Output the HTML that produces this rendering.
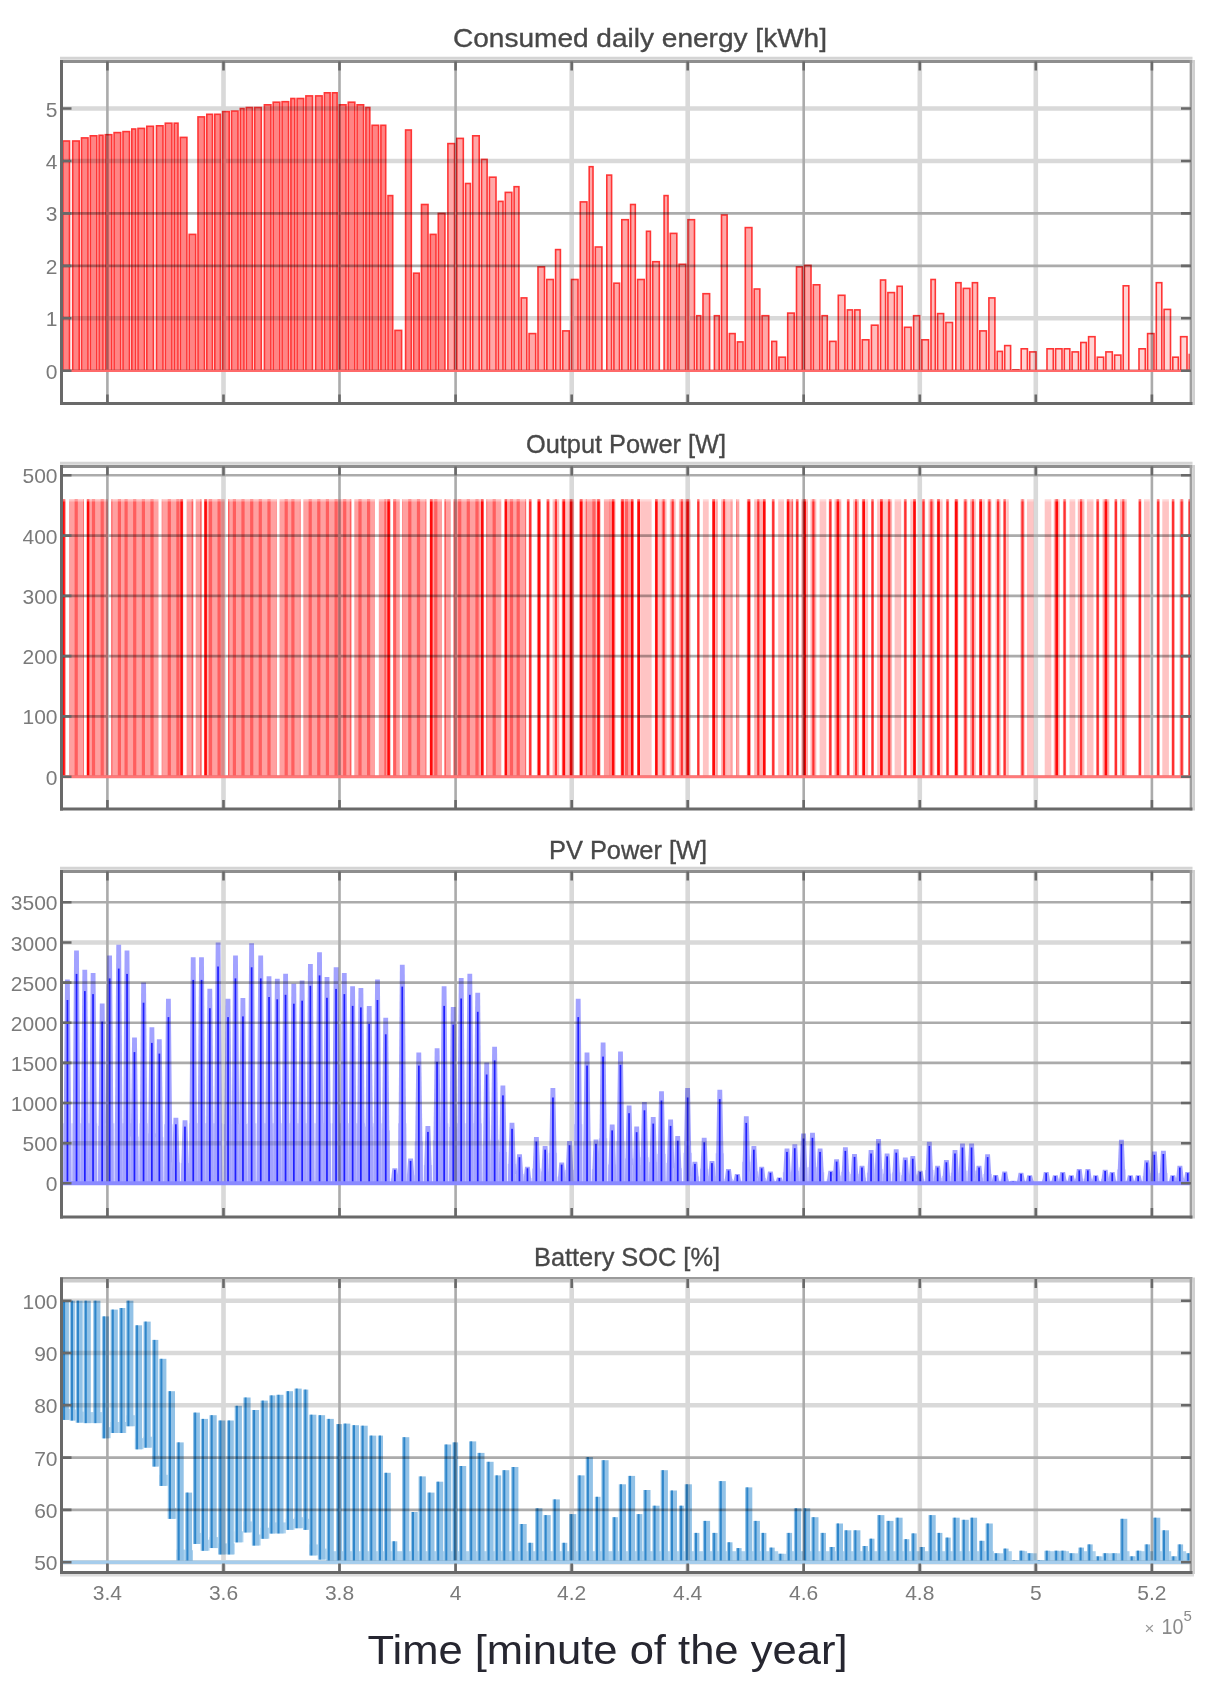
<!DOCTYPE html><html><head><meta charset="utf-8"><style>html,body{margin:0;padding:0;background:#fff;}body{position:relative;width:1208px;height:1699px;overflow:hidden;}svg{display:block;}#wrap{position:absolute;left:0;top:0;}text{font-family:"Liberation Sans",sans-serif;}</style></head><body>
<div id="wrap">
<svg id="main" width="1208" height="1699" viewBox="0 0 1208 1699" shape-rendering="auto">
<rect width="1208" height="1699" fill="#fff"/>
<clipPath id="c0"><rect x="61.5" y="61.5" width="1129.5" height="342.0"/></clipPath>
<g clip-path="url(#c0)">
<rect x="62.9" y="141.0" width="6.6" height="229.8" fill="#ff8484" stroke="#ff3535" stroke-width="1.6"/>
<rect x="72.7" y="141.0" width="6.5" height="229.8" fill="#ff8484" stroke="#ff3535" stroke-width="1.6"/>
<rect x="81.5" y="137.9" width="6.5" height="232.9" fill="#ff8484" stroke="#ff3535" stroke-width="1.6"/>
<rect x="90.3" y="135.8" width="6.5" height="235.0" fill="#ff8484" stroke="#ff3535" stroke-width="1.6"/>
<rect x="99.1" y="135.3" width="3.9" height="235.5" fill="#ff8484" stroke="#ff3535" stroke-width="1.6"/>
<rect x="105.3" y="134.7" width="6.5" height="236.1" fill="#ff8484" stroke="#ff3535" stroke-width="1.6"/>
<rect x="114.1" y="132.6" width="6.6" height="238.2" fill="#ff8484" stroke="#ff3535" stroke-width="1.6"/>
<rect x="123.0" y="131.6" width="6.5" height="239.2" fill="#ff8484" stroke="#ff3535" stroke-width="1.6"/>
<rect x="131.8" y="129.0" width="3.9" height="241.8" fill="#ff8484" stroke="#ff3535" stroke-width="1.6"/>
<rect x="138.0" y="128.4" width="6.5" height="242.4" fill="#ff8484" stroke="#ff3535" stroke-width="1.6"/>
<rect x="146.8" y="126.3" width="6.6" height="244.5" fill="#ff8484" stroke="#ff3535" stroke-width="1.6"/>
<rect x="156.5" y="125.8" width="6.5" height="245.0" fill="#ff8484" stroke="#ff3535" stroke-width="1.6"/>
<rect x="165.3" y="123.2" width="6.6" height="247.6" fill="#ff8484" stroke="#ff3535" stroke-width="1.6"/>
<rect x="174.2" y="123.2" width="3.8" height="247.6" fill="#ff8484" stroke="#ff3535" stroke-width="1.6"/>
<rect x="180.3" y="137.4" width="6.6" height="233.4" fill="#ff8484" stroke="#ff3535" stroke-width="1.6"/>
<rect x="189.2" y="234.4" width="6.5" height="136.4" fill="#ff8484" stroke="#ff3535" stroke-width="1.6"/>
<rect x="198.0" y="116.9" width="6.5" height="253.9" fill="#ff8484" stroke="#ff3535" stroke-width="1.6"/>
<rect x="206.8" y="114.3" width="5.7" height="256.5" fill="#ff8484" stroke="#ff3535" stroke-width="1.6"/>
<rect x="214.8" y="114.3" width="5.6" height="256.5" fill="#ff8484" stroke="#ff3535" stroke-width="1.6"/>
<rect x="222.7" y="111.6" width="6.5" height="259.2" fill="#ff8484" stroke="#ff3535" stroke-width="1.6"/>
<rect x="231.5" y="111.1" width="6.5" height="259.7" fill="#ff8484" stroke="#ff3535" stroke-width="1.6"/>
<rect x="240.3" y="108.5" width="3.7" height="262.3" fill="#ff8484" stroke="#ff3535" stroke-width="1.6"/>
<rect x="246.3" y="107.5" width="6.1" height="263.3" fill="#ff8484" stroke="#ff3535" stroke-width="1.6"/>
<rect x="254.7" y="107.5" width="6.6" height="263.3" fill="#ff8484" stroke="#ff3535" stroke-width="1.6"/>
<rect x="264.4" y="104.8" width="6.5" height="266.0" fill="#ff8484" stroke="#ff3535" stroke-width="1.6"/>
<rect x="273.2" y="102.2" width="6.6" height="268.6" fill="#ff8484" stroke="#ff3535" stroke-width="1.6"/>
<rect x="282.1" y="101.7" width="6.5" height="269.1" fill="#ff8484" stroke="#ff3535" stroke-width="1.6"/>
<rect x="290.9" y="98.5" width="3.9" height="272.3" fill="#ff8484" stroke="#ff3535" stroke-width="1.6"/>
<rect x="297.1" y="98.5" width="6.5" height="272.3" fill="#ff8484" stroke="#ff3535" stroke-width="1.6"/>
<rect x="305.9" y="95.9" width="6.6" height="274.9" fill="#ff8484" stroke="#ff3535" stroke-width="1.6"/>
<rect x="315.6" y="95.9" width="6.5" height="274.9" fill="#ff8484" stroke="#ff3535" stroke-width="1.6"/>
<rect x="324.4" y="92.8" width="5.7" height="278.0" fill="#ff8484" stroke="#ff3535" stroke-width="1.6"/>
<rect x="332.4" y="92.8" width="4.7" height="278.0" fill="#ff8484" stroke="#ff3535" stroke-width="1.6"/>
<rect x="339.4" y="104.8" width="6.6" height="266.0" fill="#ff8484" stroke="#ff3535" stroke-width="1.6"/>
<rect x="348.3" y="102.2" width="6.5" height="268.6" fill="#ff8484" stroke="#ff3535" stroke-width="1.6"/>
<rect x="357.1" y="104.8" width="6.5" height="266.0" fill="#ff8484" stroke="#ff3535" stroke-width="1.6"/>
<rect x="365.9" y="107.5" width="3.9" height="263.3" fill="#ff8484" stroke="#ff3535" stroke-width="1.6"/>
<rect x="372.1" y="125.3" width="6.5" height="245.5" fill="#ff8484" stroke="#ff3535" stroke-width="1.6"/>
<rect x="380.9" y="125.3" width="4.8" height="245.5" fill="#ff8484" stroke="#ff3535" stroke-width="1.6"/>
<rect x="388.0" y="195.6" width="4.7" height="175.2" fill="#ff8484" stroke="#ff3535" stroke-width="1.6"/>
<rect x="395.0" y="330.4" width="6.6" height="40.4" fill="#ff8484" stroke="#ff3535" stroke-width="1.6"/>
<rect x="405.6" y="130.0" width="5.7" height="240.8" fill="#ff8484" stroke="#ff3535" stroke-width="1.6"/>
<rect x="413.6" y="273.2" width="5.6" height="97.6" fill="#ff8484" stroke="#ff3535" stroke-width="1.6"/>
<rect x="421.5" y="204.5" width="6.5" height="166.3" fill="#ff8484" stroke="#ff3535" stroke-width="1.6"/>
<rect x="430.3" y="234.4" width="5.7" height="136.4" fill="#ff8484" stroke="#ff3535" stroke-width="1.6"/>
<rect x="438.3" y="213.4" width="6.6" height="157.4" fill="#ff8484" stroke="#ff3535" stroke-width="1.6"/>
<rect x="447.9" y="143.6" width="6.6" height="227.2" fill="#ffa8a8" stroke="#ff3535" stroke-width="1.6"/>
<rect x="456.8" y="138.4" width="6.5" height="232.4" fill="#ffa8a8" stroke="#ff3535" stroke-width="1.6"/>
<rect x="465.6" y="183.5" width="4.8" height="187.3" fill="#ffa8a8" stroke="#ff3535" stroke-width="1.6"/>
<rect x="472.7" y="135.8" width="6.5" height="235.0" fill="#ffa8a8" stroke="#ff3535" stroke-width="1.6"/>
<rect x="481.5" y="159.4" width="5.6" height="211.4" fill="#ffa8a8" stroke="#ff3535" stroke-width="1.6"/>
<rect x="489.4" y="177.2" width="6.6" height="193.6" fill="#ffa8a8" stroke="#ff3535" stroke-width="1.6"/>
<rect x="498.3" y="201.4" width="4.7" height="169.4" fill="#ffa8a8" stroke="#ff3535" stroke-width="1.6"/>
<rect x="505.3" y="192.4" width="6.5" height="178.4" fill="#ffa8a8" stroke="#ff3535" stroke-width="1.6"/>
<rect x="514.1" y="186.7" width="4.8" height="184.1" fill="#ffa8a8" stroke="#ff3535" stroke-width="1.6"/>
<rect x="521.2" y="297.9" width="5.6" height="72.9" fill="#ffa8a8" stroke="#ff3535" stroke-width="1.6"/>
<rect x="529.1" y="333.6" width="6.6" height="37.2" fill="#ffa8a8" stroke="#ff3535" stroke-width="1.6"/>
<rect x="538.0" y="266.9" width="6.5" height="103.9" fill="#ffa8a8" stroke="#ff3535" stroke-width="1.6"/>
<rect x="546.8" y="279.5" width="6.5" height="91.3" fill="#ffa8a8" stroke="#ff3535" stroke-width="1.6"/>
<rect x="555.6" y="249.6" width="4.8" height="121.2" fill="#ffa8a8" stroke="#ff3535" stroke-width="1.6"/>
<rect x="562.7" y="330.9" width="6.5" height="39.9" fill="#ffa8a8" stroke="#ff3535" stroke-width="1.6"/>
<rect x="571.5" y="279.5" width="6.5" height="91.3" fill="#ffa8a8" stroke="#ff3535" stroke-width="1.6"/>
<rect x="580.3" y="201.9" width="6.6" height="168.9" fill="#ffa8a8" stroke="#ff3535" stroke-width="1.6"/>
<rect x="589.2" y="166.7" width="3.8" height="204.1" fill="#ffa8a8" stroke="#ff3535" stroke-width="1.6"/>
<rect x="595.3" y="247.0" width="6.6" height="123.8" fill="#ffa8a8" stroke="#ff3535" stroke-width="1.6"/>
<rect x="606.8" y="175.1" width="4.8" height="195.7" fill="#ffa8a8" stroke="#ff3535" stroke-width="1.6"/>
<rect x="613.9" y="283.2" width="5.6" height="87.6" fill="#ffa8a8" stroke="#ff3535" stroke-width="1.6"/>
<rect x="621.8" y="219.7" width="6.5" height="151.1" fill="#ffa8a8" stroke="#ff3535" stroke-width="1.6"/>
<rect x="630.6" y="204.5" width="4.7" height="166.3" fill="#ffa8a8" stroke="#ff3535" stroke-width="1.6"/>
<rect x="637.6" y="279.5" width="6.6" height="91.3" fill="#ffa8a8" stroke="#ff3535" stroke-width="1.6"/>
<rect x="646.5" y="231.3" width="3.9" height="139.5" fill="#ffa8a8" stroke="#ff3535" stroke-width="1.6"/>
<rect x="652.7" y="261.7" width="6.6" height="109.1" fill="#ffa8a8" stroke="#ff3535" stroke-width="1.6"/>
<rect x="664.1" y="195.6" width="3.9" height="175.2" fill="#ffa8a8" stroke="#ff3535" stroke-width="1.6"/>
<rect x="670.3" y="233.4" width="6.5" height="137.4" fill="#ffa8a8" stroke="#ff3535" stroke-width="1.6"/>
<rect x="679.1" y="264.3" width="6.6" height="106.5" fill="#ffa8a8" stroke="#ff3535" stroke-width="1.6"/>
<rect x="688.0" y="219.7" width="6.5" height="151.1" fill="#ffa8a8" stroke="#ff3535" stroke-width="1.6"/>
<rect x="696.8" y="315.7" width="3.9" height="55.1" fill="#ffa8a8" stroke="#ff3535" stroke-width="1.6"/>
<rect x="703.0" y="293.7" width="6.6" height="77.1" fill="#ffa8a8" stroke="#ff3535" stroke-width="1.6"/>
<rect x="714.4" y="315.7" width="4.8" height="55.1" fill="#ffa8a8" stroke="#ff3535" stroke-width="1.6"/>
<rect x="721.5" y="215.0" width="5.6" height="155.8" fill="#ffa8a8" stroke="#ff3535" stroke-width="1.6"/>
<rect x="729.4" y="333.6" width="5.7" height="37.2" fill="#ffa8a8" stroke="#ff3535" stroke-width="1.6"/>
<rect x="737.4" y="341.9" width="5.6" height="28.9" fill="#ffa8a8" stroke="#ff3535" stroke-width="1.6"/>
<rect x="745.3" y="227.6" width="6.6" height="143.2" fill="#ffa8a8" stroke="#ff3535" stroke-width="1.6"/>
<rect x="754.2" y="289.0" width="5.6" height="81.8" fill="#ffa8a8" stroke="#ff3535" stroke-width="1.6"/>
<rect x="762.1" y="315.7" width="6.6" height="55.1" fill="#ffa8a8" stroke="#ff3535" stroke-width="1.6"/>
<rect x="771.8" y="341.4" width="4.8" height="29.4" fill="#ffa8a8" stroke="#ff3535" stroke-width="1.6"/>
<rect x="778.9" y="357.2" width="6.5" height="13.6" fill="#ffa8a8" stroke="#ff3535" stroke-width="1.6"/>
<rect x="787.7" y="313.1" width="6.5" height="57.7" fill="#ffa8a8" stroke="#ff3535" stroke-width="1.6"/>
<rect x="796.5" y="266.9" width="5.7" height="103.9" fill="#ffa8a8" stroke="#ff3535" stroke-width="1.6"/>
<rect x="804.5" y="265.4" width="6.5" height="105.4" fill="#ffa8a8" stroke="#ff3535" stroke-width="1.6"/>
<rect x="813.3" y="284.8" width="6.5" height="86.0" fill="#ffa8a8" stroke="#ff3535" stroke-width="1.6"/>
<rect x="822.1" y="315.7" width="5.2" height="55.1" fill="#ffbcbc" stroke="#ff3535" stroke-width="1.6"/>
<rect x="829.6" y="341.4" width="6.4" height="29.4" fill="#ffbcbc" stroke="#ff3535" stroke-width="1.6"/>
<rect x="838.3" y="295.3" width="6.6" height="75.5" fill="#ffbcbc" stroke="#ff3535" stroke-width="1.6"/>
<rect x="847.4" y="309.9" width="5.1" height="60.9" fill="#ffbcbc" stroke="#ff3535" stroke-width="1.6"/>
<rect x="854.8" y="309.9" width="5.2" height="60.9" fill="#ffbcbc" stroke="#ff3535" stroke-width="1.6"/>
<rect x="862.3" y="339.8" width="6.6" height="31.0" fill="#ffbcbc" stroke="#ff3535" stroke-width="1.6"/>
<rect x="871.4" y="325.2" width="6.6" height="45.6" fill="#ffbcbc" stroke="#ff3535" stroke-width="1.6"/>
<rect x="880.5" y="280.0" width="5.1" height="90.8" fill="#ffbcbc" stroke="#ff3535" stroke-width="1.6"/>
<rect x="887.9" y="292.6" width="6.6" height="78.2" fill="#ffbcbc" stroke="#ff3535" stroke-width="1.6"/>
<rect x="897.1" y="286.3" width="5.1" height="84.5" fill="#ffbcbc" stroke="#ff3535" stroke-width="1.6"/>
<rect x="904.5" y="327.3" width="6.6" height="43.5" fill="#ffbcbc" stroke="#ff3535" stroke-width="1.6"/>
<rect x="913.6" y="315.7" width="6.0" height="55.1" fill="#ffbcbc" stroke="#ff3535" stroke-width="1.6"/>
<rect x="921.9" y="339.8" width="6.6" height="31.0" fill="#ffbcbc" stroke="#ff3535" stroke-width="1.6"/>
<rect x="931.0" y="279.5" width="4.3" height="91.3" fill="#ffbcbc" stroke="#ff3535" stroke-width="1.6"/>
<rect x="937.6" y="313.6" width="6.0" height="57.2" fill="#ffbcbc" stroke="#ff3535" stroke-width="1.6"/>
<rect x="945.9" y="322.5" width="6.6" height="48.3" fill="#ffbcbc" stroke="#ff3535" stroke-width="1.6"/>
<rect x="955.8" y="282.7" width="5.2" height="88.1" fill="#ffbcbc" stroke="#ff3535" stroke-width="1.6"/>
<rect x="963.3" y="288.4" width="6.6" height="82.4" fill="#ffbcbc" stroke="#ff3535" stroke-width="1.6"/>
<rect x="972.4" y="282.7" width="5.1" height="88.1" fill="#ffbcbc" stroke="#ff3535" stroke-width="1.6"/>
<rect x="979.8" y="330.9" width="6.6" height="39.9" fill="#ffbcbc" stroke="#ff3535" stroke-width="1.6"/>
<rect x="988.9" y="297.9" width="6.0" height="72.9" fill="#ffbcbc" stroke="#ff3535" stroke-width="1.6"/>
<rect x="997.2" y="351.4" width="5.2" height="19.4" fill="#ffbcbc" stroke="#ff3535" stroke-width="1.6"/>
<rect x="1004.7" y="345.6" width="5.9" height="25.2" fill="#ffd4d4" stroke="#ff3535" stroke-width="1.6"/>
<rect x="1012.9" y="369.8" width="6.0" height="1.0" fill="#ffd4d4" stroke="#ff3535" stroke-width="1.6"/>
<rect x="1021.2" y="348.8" width="6.2" height="22.0" fill="#ffd4d4" stroke="#ff3535" stroke-width="1.6"/>
<rect x="1029.7" y="351.9" width="6.3" height="18.9" fill="#ffd4d4" stroke="#ff3535" stroke-width="1.6"/>
<rect x="1038.3" y="370.8" width="6.4" height="0.0" fill="#ffd4d4" stroke="#ff3535" stroke-width="1.6"/>
<rect x="1047.0" y="348.8" width="6.3" height="22.0" fill="#ffd4d4" stroke="#ff3535" stroke-width="1.6"/>
<rect x="1055.6" y="348.8" width="6.4" height="22.0" fill="#ffd4d4" stroke="#ff3535" stroke-width="1.6"/>
<rect x="1064.3" y="348.8" width="5.5" height="22.0" fill="#ffd4d4" stroke="#ff3535" stroke-width="1.6"/>
<rect x="1072.1" y="351.9" width="6.4" height="18.9" fill="#ffd4d4" stroke="#ff3535" stroke-width="1.6"/>
<rect x="1080.8" y="342.5" width="5.5" height="28.3" fill="#ffd4d4" stroke="#ff3535" stroke-width="1.6"/>
<rect x="1088.6" y="336.7" width="6.4" height="34.1" fill="#ffd4d4" stroke="#ff3535" stroke-width="1.6"/>
<rect x="1097.3" y="357.2" width="6.3" height="13.6" fill="#ffd4d4" stroke="#ff3535" stroke-width="1.6"/>
<rect x="1105.9" y="351.9" width="6.4" height="18.9" fill="#ffd4d4" stroke="#ff3535" stroke-width="1.6"/>
<rect x="1114.6" y="355.1" width="6.3" height="15.7" fill="#ffd4d4" stroke="#ff3535" stroke-width="1.6"/>
<rect x="1123.2" y="285.8" width="5.6" height="85.0" fill="#ffd4d4" stroke="#ff3535" stroke-width="1.6"/>
<rect x="1131.1" y="370.8" width="5.6" height="0.0" fill="#ffd4d4" stroke="#ff3535" stroke-width="1.6"/>
<rect x="1139.0" y="348.8" width="6.3" height="22.0" fill="#ffd4d4" stroke="#ff3535" stroke-width="1.6"/>
<rect x="1147.6" y="333.6" width="6.4" height="37.2" fill="#ffd4d4" stroke="#ff3535" stroke-width="1.6"/>
<rect x="1156.3" y="282.7" width="5.5" height="88.1" fill="#ffd4d4" stroke="#ff3535" stroke-width="1.6"/>
<rect x="1164.1" y="309.4" width="6.4" height="61.4" fill="#ffd4d4" stroke="#ff3535" stroke-width="1.6"/>
<rect x="1172.8" y="357.2" width="5.5" height="13.6" fill="#ffd4d4" stroke="#ff3535" stroke-width="1.6"/>
<rect x="1180.6" y="336.7" width="6.4" height="34.1" fill="#ffd4d4" stroke="#ff3535" stroke-width="1.6"/>
<rect x="1189.3" y="354.5" width="6.0" height="16.3" fill="#ffd4d4" stroke="#ff3535" stroke-width="1.6"/>
</g>
<g style="mix-blend-mode:multiply">
<path d="M223.5 61.5V403.5M571.7 61.5V403.5M687.7 61.5V403.5M919.8 61.5V403.5M1035.8 61.5V403.5M61.5 318.3H1191.0M61.5 161.0H1191.0M61.5 108.5H1191.0" stroke="#d9d9d9" stroke-width="4.6" fill="none"/>
<path d="M107.4 61.5V403.5M339.5 61.5V403.5M455.6 61.5V403.5M803.7 61.5V403.5M1151.9 61.5V403.5M61.5 370.8H1191.0M61.5 265.9H1191.0M61.5 213.4H1191.0" stroke="#ababab" stroke-width="2.6" fill="none"/>
</g>
<line x1="61.5" y1="370.8" x2="1191.0" y2="370.8" stroke="#ff6a6a" stroke-width="2.2"/>
<line x1="60.0" y1="58.3" x2="1192.5" y2="58.3" stroke="#d4d4d4" stroke-width="3"/>
<line x1="60.0" y1="61.5" x2="1192.5" y2="61.5" stroke="#8e8e8e" stroke-width="3"/>
<line x1="1191.0" y1="60.0" x2="1191.0" y2="405.0" stroke="#a0a0a0" stroke-width="2.7"/>
<line x1="1193.7" y1="60.0" x2="1193.7" y2="405.0" stroke="#d0d0d0" stroke-width="2.6"/>
<line x1="61.5" y1="60.0" x2="61.5" y2="405.0" stroke="#696969" stroke-width="3"/>
<line x1="60.0" y1="403.5" x2="1192.5" y2="403.5" stroke="#696969" stroke-width="2.8"/>
<path d="M107.4 61.5v9M107.4 403.5v-9M223.5 61.5v9M223.5 403.5v-9M339.5 61.5v9M339.5 403.5v-9M455.6 61.5v9M455.6 403.5v-9M571.7 61.5v9M571.7 403.5v-9M687.7 61.5v9M687.7 403.5v-9M803.7 61.5v9M803.7 403.5v-9M919.8 61.5v9M919.8 403.5v-9M1035.8 61.5v9M1035.8 403.5v-9M1151.9 61.5v9M1151.9 403.5v-9M61.5 370.8h10M1191.0 370.8h-10M61.5 318.3h10M1191.0 318.3h-10M61.5 265.9h10M1191.0 265.9h-10M61.5 213.4h10M1191.0 213.4h-10M61.5 161.0h10M1191.0 161.0h-10M61.5 108.5h10M1191.0 108.5h-10" stroke="#696969" stroke-width="2.6" fill="none"/>
<text x="57.5" y="378.8" font-size="21" fill="#7a7a7a" text-anchor="end">0</text>
<text x="57.5" y="326.3" font-size="21" fill="#7a7a7a" text-anchor="end">1</text>
<text x="57.5" y="273.9" font-size="21" fill="#7a7a7a" text-anchor="end">2</text>
<text x="57.5" y="221.4" font-size="21" fill="#7a7a7a" text-anchor="end">3</text>
<text x="57.5" y="169.0" font-size="21" fill="#7a7a7a" text-anchor="end">4</text>
<text x="57.5" y="116.5" font-size="21" fill="#7a7a7a" text-anchor="end">5</text>
<text x="453" y="47" font-size="26" fill="#484848" stroke="#484848" stroke-width="0.35" textLength="374" lengthAdjust="spacingAndGlyphs">Consumed daily energy [kWh]</text>
<clipPath id="c1"><rect x="61.5" y="466.5" width="1129.5" height="342.5"/></clipPath>
<g clip-path="url(#c1)">
<rect x="61.0" y="499.4" width="5.0" height="277.3" fill="#ffa8a8"/>
<rect x="62.2" y="499.4" width="2.6" height="277.3" fill="#ff0a0a"/>
<rect x="69.0" y="499.4" width="15.0" height="277.3" fill="#ffa0a0"/>
<rect x="74.6" y="499.4" width="3.2" height="277.3" fill="#ff5e5e"/>
<rect x="83.3" y="499.4" width="0.7" height="277.3" fill="#ff5e5e"/>
<rect x="86.5" y="499.4" width="3.3" height="277.3" fill="#ffa8a8"/>
<rect x="86.9" y="499.4" width="2.6" height="277.3" fill="#ff0a0a"/>
<rect x="89.8" y="499.4" width="18.2" height="277.3" fill="#ffa0a0"/>
<rect x="91.9" y="499.4" width="3.2" height="277.3" fill="#ff5e5e"/>
<rect x="100.6" y="499.4" width="3.2" height="277.3" fill="#ff5e5e"/>
<rect x="111.3" y="499.4" width="47.2" height="277.3" fill="#ffa0a0"/>
<rect x="111.3" y="499.4" width="1.1" height="277.3" fill="#ff5e5e"/>
<rect x="117.8" y="499.4" width="3.2" height="277.3" fill="#ff5e5e"/>
<rect x="124.5" y="499.4" width="3.2" height="277.3" fill="#ff5e5e"/>
<rect x="133.1" y="499.4" width="3.2" height="277.3" fill="#ff5e5e"/>
<rect x="141.8" y="499.4" width="3.2" height="277.3" fill="#ff5e5e"/>
<rect x="150.4" y="499.4" width="3.2" height="277.3" fill="#ff5e5e"/>
<rect x="161.8" y="499.4" width="18.2" height="277.3" fill="#ffa0a0"/>
<rect x="161.8" y="499.4" width="0.4" height="277.3" fill="#ff5e5e"/>
<rect x="167.7" y="499.4" width="3.2" height="277.3" fill="#ff5e5e"/>
<rect x="176.3" y="499.4" width="3.2" height="277.3" fill="#ff5e5e"/>
<rect x="180.0" y="499.4" width="3.3" height="277.3" fill="#ffa8a8"/>
<rect x="180.3" y="499.4" width="2.6" height="277.3" fill="#ff0a0a"/>
<rect x="186.6" y="499.4" width="6.6" height="277.3" fill="#ffa0a0"/>
<rect x="191.6" y="499.4" width="1.6" height="277.3" fill="#ff5e5e"/>
<rect x="195.7" y="499.4" width="5.8" height="277.3" fill="#ffa0a0"/>
<rect x="200.2" y="499.4" width="1.3" height="277.3" fill="#ff5e5e"/>
<rect x="204.0" y="499.4" width="3.3" height="277.3" fill="#ffa8a8"/>
<rect x="204.3" y="499.4" width="2.6" height="277.3" fill="#ff0a0a"/>
<rect x="207.3" y="499.4" width="17.4" height="277.3" fill="#ffa0a0"/>
<rect x="208.9" y="499.4" width="3.2" height="277.3" fill="#ff5e5e"/>
<rect x="217.5" y="499.4" width="3.2" height="277.3" fill="#ff5e5e"/>
<rect x="228.0" y="499.4" width="48.5" height="277.3" fill="#ffa0a0"/>
<rect x="228.0" y="499.4" width="1.4" height="277.3" fill="#ff5e5e"/>
<rect x="232.8" y="499.4" width="3.2" height="277.3" fill="#ff5e5e"/>
<rect x="241.4" y="499.4" width="3.2" height="277.3" fill="#ff5e5e"/>
<rect x="250.1" y="499.4" width="3.2" height="277.3" fill="#ff5e5e"/>
<rect x="258.7" y="499.4" width="3.2" height="277.3" fill="#ff5e5e"/>
<rect x="267.4" y="499.4" width="3.2" height="277.3" fill="#ff5e5e"/>
<rect x="276.0" y="499.4" width="0.5" height="277.3" fill="#ff5e5e"/>
<rect x="279.5" y="499.4" width="21.0" height="277.3" fill="#ffa0a0"/>
<rect x="284.6" y="499.4" width="3.2" height="277.3" fill="#ff5e5e"/>
<rect x="291.3" y="499.4" width="3.2" height="277.3" fill="#ff5e5e"/>
<rect x="299.9" y="499.4" width="0.6" height="277.3" fill="#ff5e5e"/>
<rect x="303.3" y="499.4" width="48.0" height="277.3" fill="#ffa0a0"/>
<rect x="308.6" y="499.4" width="3.2" height="277.3" fill="#ff5e5e"/>
<rect x="317.2" y="499.4" width="3.2" height="277.3" fill="#ff5e5e"/>
<rect x="325.8" y="499.4" width="3.2" height="277.3" fill="#ff5e5e"/>
<rect x="334.5" y="499.4" width="3.2" height="277.3" fill="#ff5e5e"/>
<rect x="343.1" y="499.4" width="3.2" height="277.3" fill="#ff5e5e"/>
<rect x="349.8" y="499.4" width="1.5" height="277.3" fill="#ff5e5e"/>
<rect x="354.3" y="499.4" width="20.7" height="277.3" fill="#ffa0a0"/>
<rect x="358.4" y="499.4" width="3.2" height="277.3" fill="#ff5e5e"/>
<rect x="367.0" y="499.4" width="3.2" height="277.3" fill="#ff5e5e"/>
<rect x="378.8" y="499.4" width="7.8" height="277.3" fill="#ffa0a0"/>
<rect x="384.3" y="499.4" width="2.3" height="277.3" fill="#ff5e5e"/>
<rect x="386.6" y="499.4" width="4.1" height="277.3" fill="#ffa8a8"/>
<rect x="387.3" y="499.4" width="2.6" height="277.3" fill="#ff0a0a"/>
<rect x="393.2" y="499.4" width="6.6" height="277.3" fill="#ffa0a0"/>
<rect x="393.2" y="499.4" width="3.0" height="277.3" fill="#ff5e5e"/>
<rect x="402.3" y="499.4" width="24.0" height="277.3" fill="#ffa0a0"/>
<rect x="402.3" y="499.4" width="0.5" height="277.3" fill="#ff5e5e"/>
<rect x="408.2" y="499.4" width="3.2" height="277.3" fill="#ff5e5e"/>
<rect x="416.9" y="499.4" width="3.2" height="277.3" fill="#ff5e5e"/>
<rect x="425.5" y="499.4" width="0.8" height="277.3" fill="#ff5e5e"/>
<rect x="429.6" y="499.4" width="3.4" height="277.3" fill="#ffa8a8"/>
<rect x="430.0" y="499.4" width="2.6" height="277.3" fill="#ff0a0a"/>
<rect x="433.0" y="499.4" width="9.0" height="277.3" fill="#ffa0a0"/>
<rect x="434.2" y="499.4" width="3.2" height="277.3" fill="#ff5e5e"/>
<rect x="444.5" y="499.4" width="6.3" height="277.3" fill="#ffa0a0"/>
<rect x="444.5" y="499.4" width="1.5" height="277.3" fill="#ff5e5e"/>
<rect x="453.6" y="499.4" width="27.0" height="277.3" fill="#ffa0a0"/>
<rect x="453.6" y="499.4" width="1.0" height="277.3" fill="#ff5e5e"/>
<rect x="458.1" y="499.4" width="3.2" height="277.3" fill="#ff5e5e"/>
<rect x="466.7" y="499.4" width="3.2" height="277.3" fill="#ff5e5e"/>
<rect x="475.4" y="499.4" width="3.2" height="277.3" fill="#ff5e5e"/>
<rect x="480.6" y="499.4" width="3.3" height="277.3" fill="#ffa8a8"/>
<rect x="480.9" y="499.4" width="2.6" height="277.3" fill="#ff0a0a"/>
<rect x="486.4" y="499.4" width="14.9" height="277.3" fill="#ffa0a0"/>
<rect x="486.4" y="499.4" width="0.8" height="277.3" fill="#ff5e5e"/>
<rect x="492.6" y="499.4" width="3.2" height="277.3" fill="#ff5e5e"/>
<rect x="504.3" y="499.4" width="3.3" height="277.3" fill="#ffa8a8"/>
<rect x="504.7" y="499.4" width="2.6" height="277.3" fill="#ff0a0a"/>
<rect x="507.6" y="499.4" width="18.5" height="277.3" fill="#ffa0a0"/>
<rect x="509.9" y="499.4" width="3.2" height="277.3" fill="#ff5e5e"/>
<rect x="516.6" y="499.4" width="3.2" height="277.3" fill="#ff5e5e"/>
<rect x="525.2" y="499.4" width="0.9" height="277.3" fill="#ff5e5e"/>
<rect x="528.6" y="499.4" width="3.3" height="277.3" fill="#ffb4b4"/>
<rect x="529.1" y="499.4" width="2.2" height="277.3" fill="#ff3030"/>
<rect x="536.9" y="499.4" width="4.1" height="277.3" fill="#ffa8a8"/>
<rect x="537.7" y="499.4" width="2.6" height="277.3" fill="#ff0a0a"/>
<rect x="546.0" y="499.4" width="4.1" height="277.3" fill="#ffb4b4"/>
<rect x="546.9" y="499.4" width="2.2" height="277.3" fill="#ff3030"/>
<rect x="552.6" y="499.4" width="6.6" height="277.3" fill="#ffb4b4"/>
<rect x="554.8" y="499.4" width="2.2" height="277.3" fill="#ff3030"/>
<rect x="561.7" y="499.4" width="4.2" height="277.3" fill="#ffa8a8"/>
<rect x="562.5" y="499.4" width="2.6" height="277.3" fill="#ff0a0a"/>
<rect x="565.9" y="499.4" width="2.4" height="277.3" fill="#ffc4c4"/>
<rect x="568.3" y="499.4" width="5.8" height="277.3" fill="#ffa8a8"/>
<rect x="569.9" y="499.4" width="2.6" height="277.3" fill="#ff0a0a"/>
<rect x="579.1" y="499.4" width="4.1" height="277.3" fill="#ffa8a8"/>
<rect x="579.9" y="499.4" width="2.6" height="277.3" fill="#ff0a0a"/>
<rect x="583.2" y="499.4" width="2.5" height="277.3" fill="#ffc4c4"/>
<rect x="585.7" y="499.4" width="10.8" height="277.3" fill="#ffa0a0"/>
<rect x="585.7" y="499.4" width="1.2" height="277.3" fill="#ff5e5e"/>
<rect x="592.3" y="499.4" width="3.2" height="277.3" fill="#ff5e5e"/>
<rect x="596.5" y="499.4" width="4.1" height="277.3" fill="#ffa8a8"/>
<rect x="597.2" y="499.4" width="2.6" height="277.3" fill="#ff0a0a"/>
<rect x="603.9" y="499.4" width="6.7" height="277.3" fill="#ffa0a0"/>
<rect x="609.6" y="499.4" width="1.0" height="277.3" fill="#ff5e5e"/>
<rect x="610.6" y="499.4" width="4.9" height="277.3" fill="#ffa8a8"/>
<rect x="611.8" y="499.4" width="2.6" height="277.3" fill="#ff0a0a"/>
<rect x="620.5" y="499.4" width="4.1" height="277.3" fill="#ffa8a8"/>
<rect x="621.2" y="499.4" width="2.6" height="277.3" fill="#ff0a0a"/>
<rect x="624.6" y="499.4" width="5.8" height="277.3" fill="#ffa0a0"/>
<rect x="624.9" y="499.4" width="3.2" height="277.3" fill="#ff5e5e"/>
<rect x="630.4" y="499.4" width="3.3" height="277.3" fill="#ffa8a8"/>
<rect x="630.8" y="499.4" width="2.6" height="277.3" fill="#ff0a0a"/>
<rect x="637.0" y="499.4" width="3.4" height="277.3" fill="#ffa8a8"/>
<rect x="637.4" y="499.4" width="2.6" height="277.3" fill="#ff0a0a"/>
<rect x="640.4" y="499.4" width="11.2" height="277.3" fill="#ffc4c4"/>
<rect x="654.9" y="499.4" width="3.0" height="277.3" fill="#ffa8a8"/>
<rect x="655.1" y="499.4" width="2.6" height="277.3" fill="#ff0a0a"/>
<rect x="657.9" y="499.4" width="2.8" height="277.3" fill="#ffc4c4"/>
<rect x="660.7" y="499.4" width="5.8" height="277.3" fill="#ffb4b4"/>
<rect x="662.5" y="499.4" width="2.2" height="277.3" fill="#ff3030"/>
<rect x="669.8" y="499.4" width="5.8" height="277.3" fill="#ffb4b4"/>
<rect x="671.6" y="499.4" width="2.2" height="277.3" fill="#ff3030"/>
<rect x="678.9" y="499.4" width="5.8" height="277.3" fill="#ffb4b4"/>
<rect x="680.7" y="499.4" width="2.2" height="277.3" fill="#ff3030"/>
<rect x="684.7" y="499.4" width="5.8" height="277.3" fill="#ffa8a8"/>
<rect x="686.3" y="499.4" width="2.6" height="277.3" fill="#ff0a0a"/>
<rect x="697.1" y="499.4" width="2.5" height="277.3" fill="#ffb4b4"/>
<rect x="697.2" y="499.4" width="2.2" height="277.3" fill="#ff3030"/>
<rect x="702.9" y="499.4" width="5.8" height="277.3" fill="#ffc4c4"/>
<rect x="712.0" y="499.4" width="3.3" height="277.3" fill="#ffa8a8"/>
<rect x="712.4" y="499.4" width="2.6" height="277.3" fill="#ff0a0a"/>
<rect x="715.3" y="499.4" width="2.5" height="277.3" fill="#ffa0a0"/>
<rect x="721.1" y="499.4" width="5.8" height="277.3" fill="#ffb4b4"/>
<rect x="722.9" y="499.4" width="2.2" height="277.3" fill="#ff3030"/>
<rect x="726.9" y="499.4" width="3.3" height="277.3" fill="#ffc4c4"/>
<rect x="730.2" y="499.4" width="2.5" height="277.3" fill="#ffa0a0"/>
<rect x="736.0" y="499.4" width="3.3" height="277.3" fill="#ffa0a0"/>
<rect x="736.0" y="499.4" width="0.4" height="277.3" fill="#ff5e5e"/>
<rect x="746.8" y="499.4" width="4.1" height="277.3" fill="#ffa8a8"/>
<rect x="747.5" y="499.4" width="2.6" height="277.3" fill="#ff0a0a"/>
<rect x="754.2" y="499.4" width="8.3" height="277.3" fill="#ffb4b4"/>
<rect x="757.2" y="499.4" width="2.2" height="277.3" fill="#ff3030"/>
<rect x="762.5" y="499.4" width="3.3" height="277.3" fill="#ffa8a8"/>
<rect x="762.9" y="499.4" width="2.6" height="277.3" fill="#ff0a0a"/>
<rect x="771.6" y="499.4" width="3.3" height="277.3" fill="#ffb4b4"/>
<rect x="772.1" y="499.4" width="2.2" height="277.3" fill="#ff3030"/>
<rect x="778.2" y="499.4" width="5.8" height="277.3" fill="#ffc4c4"/>
<rect x="786.5" y="499.4" width="3.3" height="277.3" fill="#ffa8a8"/>
<rect x="786.9" y="499.4" width="2.6" height="277.3" fill="#ff0a0a"/>
<rect x="789.8" y="499.4" width="3.3" height="277.3" fill="#ffa0a0"/>
<rect x="791.7" y="499.4" width="1.4" height="277.3" fill="#ff5e5e"/>
<rect x="795.6" y="499.4" width="3.3" height="277.3" fill="#ffb4b4"/>
<rect x="796.1" y="499.4" width="2.2" height="277.3" fill="#ff3030"/>
<rect x="801.4" y="499.4" width="6.6" height="277.3" fill="#ffa8a8"/>
<rect x="803.4" y="499.4" width="2.6" height="277.3" fill="#ff0a0a"/>
<rect x="810.5" y="499.4" width="5.8" height="277.3" fill="#ffb4b4"/>
<rect x="812.3" y="499.4" width="2.2" height="277.3" fill="#ff3030"/>
<rect x="819.6" y="499.4" width="6.7" height="277.3" fill="#ffc4c4"/>
<rect x="828.7" y="499.4" width="3.3" height="277.3" fill="#ffb4b4"/>
<rect x="829.2" y="499.4" width="2.2" height="277.3" fill="#ff3030"/>
<rect x="834.5" y="499.4" width="6.8" height="277.3" fill="#ffa8a8"/>
<rect x="836.6" y="499.4" width="2.6" height="277.3" fill="#ff0a0a"/>
<rect x="846.6" y="499.4" width="3.3" height="277.3" fill="#ffb4b4"/>
<rect x="847.1" y="499.4" width="2.2" height="277.3" fill="#ff3030"/>
<rect x="853.2" y="499.4" width="5.8" height="277.3" fill="#ffb4b4"/>
<rect x="855.0" y="499.4" width="2.2" height="277.3" fill="#ff3030"/>
<rect x="861.8" y="499.4" width="3.8" height="277.3" fill="#ffa8a8"/>
<rect x="862.4" y="499.4" width="2.6" height="277.3" fill="#ff0a0a"/>
<rect x="865.6" y="499.4" width="2.5" height="277.3" fill="#ffc4c4"/>
<rect x="871.1" y="499.4" width="2.8" height="277.3" fill="#ffb4b4"/>
<rect x="871.4" y="499.4" width="2.2" height="277.3" fill="#ff3030"/>
<rect x="877.2" y="499.4" width="2.5" height="277.3" fill="#ffc4c4"/>
<rect x="879.7" y="499.4" width="3.3" height="277.3" fill="#ffa8a8"/>
<rect x="880.1" y="499.4" width="2.6" height="277.3" fill="#ff0a0a"/>
<rect x="883.0" y="499.4" width="3.3" height="277.3" fill="#ffc4c4"/>
<rect x="886.3" y="499.4" width="5.8" height="277.3" fill="#ffb4b4"/>
<rect x="888.1" y="499.4" width="2.2" height="277.3" fill="#ff3030"/>
<rect x="894.6" y="499.4" width="6.6" height="277.3" fill="#ffc4c4"/>
<rect x="903.7" y="499.4" width="3.3" height="277.3" fill="#ffb4b4"/>
<rect x="904.2" y="499.4" width="2.2" height="277.3" fill="#ff3030"/>
<rect x="910.3" y="499.4" width="2.5" height="277.3" fill="#ffc4c4"/>
<rect x="912.8" y="499.4" width="3.3" height="277.3" fill="#ffa8a8"/>
<rect x="913.2" y="499.4" width="2.6" height="277.3" fill="#ff0a0a"/>
<rect x="921.9" y="499.4" width="3.3" height="277.3" fill="#ffb4b4"/>
<rect x="922.4" y="499.4" width="2.2" height="277.3" fill="#ff3030"/>
<rect x="928.5" y="499.4" width="5.8" height="277.3" fill="#ffb4b4"/>
<rect x="930.3" y="499.4" width="2.2" height="277.3" fill="#ff3030"/>
<rect x="936.8" y="499.4" width="3.3" height="277.3" fill="#ffa8a8"/>
<rect x="937.2" y="499.4" width="2.6" height="277.3" fill="#ff0a0a"/>
<rect x="940.1" y="499.4" width="2.5" height="277.3" fill="#ffc4c4"/>
<rect x="945.9" y="499.4" width="3.3" height="277.3" fill="#ffb4b4"/>
<rect x="946.4" y="499.4" width="2.2" height="277.3" fill="#ff3030"/>
<rect x="954.2" y="499.4" width="4.1" height="277.3" fill="#ffa8a8"/>
<rect x="955.0" y="499.4" width="2.6" height="277.3" fill="#ff0a0a"/>
<rect x="963.3" y="499.4" width="4.2" height="277.3" fill="#ffb4b4"/>
<rect x="964.3" y="499.4" width="2.2" height="277.3" fill="#ff3030"/>
<rect x="970.0" y="499.4" width="5.7" height="277.3" fill="#ffb4b4"/>
<rect x="971.8" y="499.4" width="2.2" height="277.3" fill="#ff3030"/>
<rect x="979.0" y="499.4" width="3.3" height="277.3" fill="#ffa8a8"/>
<rect x="979.4" y="499.4" width="2.6" height="277.3" fill="#ff0a0a"/>
<rect x="982.3" y="499.4" width="2.5" height="277.3" fill="#ffc4c4"/>
<rect x="987.3" y="499.4" width="4.2" height="277.3" fill="#ffb4b4"/>
<rect x="988.3" y="499.4" width="2.2" height="277.3" fill="#ff3030"/>
<rect x="995.6" y="499.4" width="5.0" height="277.3" fill="#ffb4b4"/>
<rect x="997.0" y="499.4" width="2.2" height="277.3" fill="#ff3030"/>
<rect x="1003.0" y="499.4" width="3.4" height="277.3" fill="#ffb4b4"/>
<rect x="1003.6" y="499.4" width="2.2" height="277.3" fill="#ff3030"/>
<rect x="1006.4" y="499.4" width="2.4" height="277.3" fill="#ffc4c4"/>
<rect x="1020.4" y="499.4" width="4.2" height="277.3" fill="#ffb4b4"/>
<rect x="1021.4" y="499.4" width="2.2" height="277.3" fill="#ff3030"/>
<rect x="1027.0" y="499.4" width="6.7" height="277.3" fill="#ffc4c4"/>
<rect x="1044.7" y="499.4" width="6.6" height="277.3" fill="#ffc4c4"/>
<rect x="1053.8" y="499.4" width="5.8" height="277.3" fill="#ffa8a8"/>
<rect x="1055.4" y="499.4" width="2.6" height="277.3" fill="#ff0a0a"/>
<rect x="1062.9" y="499.4" width="3.3" height="277.3" fill="#ffb4b4"/>
<rect x="1063.5" y="499.4" width="2.2" height="277.3" fill="#ff3030"/>
<rect x="1069.5" y="499.4" width="5.8" height="277.3" fill="#ffc4c4"/>
<rect x="1077.8" y="499.4" width="6.6" height="277.3" fill="#ffb4b4"/>
<rect x="1080.0" y="499.4" width="2.2" height="277.3" fill="#ff3030"/>
<rect x="1086.9" y="499.4" width="6.6" height="277.3" fill="#ffc4c4"/>
<rect x="1096.0" y="499.4" width="3.3" height="277.3" fill="#ffb4b4"/>
<rect x="1096.6" y="499.4" width="2.2" height="277.3" fill="#ff3030"/>
<rect x="1102.6" y="499.4" width="6.7" height="277.3" fill="#ffa8a8"/>
<rect x="1104.6" y="499.4" width="2.6" height="277.3" fill="#ff0a0a"/>
<rect x="1114.2" y="499.4" width="3.3" height="277.3" fill="#ffb4b4"/>
<rect x="1114.8" y="499.4" width="2.2" height="277.3" fill="#ff3030"/>
<rect x="1120.0" y="499.4" width="6.7" height="277.3" fill="#ffb4b4"/>
<rect x="1122.2" y="499.4" width="2.2" height="277.3" fill="#ff3030"/>
<rect x="1138.2" y="499.4" width="3.4" height="277.3" fill="#ffb4b4"/>
<rect x="1138.8" y="499.4" width="2.2" height="277.3" fill="#ff3030"/>
<rect x="1144.0" y="499.4" width="5.8" height="277.3" fill="#ffc4c4"/>
<rect x="1156.5" y="499.4" width="3.3" height="277.3" fill="#ffb4b4"/>
<rect x="1157.1" y="499.4" width="2.2" height="277.3" fill="#ff3030"/>
<rect x="1162.3" y="499.4" width="6.6" height="277.3" fill="#ffc4c4"/>
<rect x="1171.4" y="499.4" width="3.3" height="277.3" fill="#ffb4b4"/>
<rect x="1172.0" y="499.4" width="2.2" height="277.3" fill="#ff3030"/>
<rect x="1179.6" y="499.4" width="4.2" height="277.3" fill="#ffb4b4"/>
<rect x="1180.6" y="499.4" width="2.2" height="277.3" fill="#ff3030"/>
<rect x="1188.7" y="499.4" width="2.3" height="277.3" fill="#ffa8a8"/>
<rect x="1188.5" y="499.4" width="2.6" height="277.3" fill="#ff0a0a"/>
<line x1="61.5" y1="500.4" x2="1191.0" y2="500.4" stroke="#fff" stroke-opacity="0.35" stroke-width="2"/>
</g>
<g style="mix-blend-mode:multiply">
<path d="M223.5 466.5V809.0M571.7 466.5V809.0M687.7 466.5V809.0M919.8 466.5V809.0M1035.8 466.5V809.0" stroke="#d9d9d9" stroke-width="4.6" fill="none"/>
<path d="M107.4 466.5V809.0M339.5 466.5V809.0M455.6 466.5V809.0M803.7 466.5V809.0M1151.9 466.5V809.0M61.5 776.7H1191.0M61.5 716.4H1191.0M61.5 656.1H1191.0M61.5 595.9H1191.0M61.5 535.6H1191.0M61.5 475.3H1191.0" stroke="#ababab" stroke-width="2.6" fill="none"/>
</g>
<line x1="61.5" y1="776.7" x2="1191.0" y2="776.7" stroke="#ff7878" stroke-width="3"/>
<line x1="60.0" y1="463.3" x2="1192.5" y2="463.3" stroke="#d4d4d4" stroke-width="3"/>
<line x1="60.0" y1="466.5" x2="1192.5" y2="466.5" stroke="#8e8e8e" stroke-width="3"/>
<line x1="1191.0" y1="465.0" x2="1191.0" y2="810.5" stroke="#a0a0a0" stroke-width="2.7"/>
<line x1="1193.7" y1="465.0" x2="1193.7" y2="810.5" stroke="#d0d0d0" stroke-width="2.6"/>
<line x1="61.5" y1="465.0" x2="61.5" y2="810.5" stroke="#696969" stroke-width="3"/>
<line x1="60.0" y1="809.0" x2="1192.5" y2="809.0" stroke="#696969" stroke-width="2.8"/>
<path d="M107.4 466.5v9M107.4 809.0v-9M223.5 466.5v9M223.5 809.0v-9M339.5 466.5v9M339.5 809.0v-9M455.6 466.5v9M455.6 809.0v-9M571.7 466.5v9M571.7 809.0v-9M687.7 466.5v9M687.7 809.0v-9M803.7 466.5v9M803.7 809.0v-9M919.8 466.5v9M919.8 809.0v-9M1035.8 466.5v9M1035.8 809.0v-9M1151.9 466.5v9M1151.9 809.0v-9M61.5 776.7h10M1191.0 776.7h-10M61.5 716.4h10M1191.0 716.4h-10M61.5 656.1h10M1191.0 656.1h-10M61.5 595.9h10M1191.0 595.9h-10M61.5 535.6h10M1191.0 535.6h-10M61.5 475.3h10M1191.0 475.3h-10" stroke="#696969" stroke-width="2.6" fill="none"/>
<text x="57.5" y="784.7" font-size="21" fill="#7a7a7a" text-anchor="end">0</text>
<text x="57.5" y="724.4" font-size="21" fill="#7a7a7a" text-anchor="end">100</text>
<text x="57.5" y="664.1" font-size="21" fill="#7a7a7a" text-anchor="end">200</text>
<text x="57.5" y="603.9" font-size="21" fill="#7a7a7a" text-anchor="end">300</text>
<text x="57.5" y="543.6" font-size="21" fill="#7a7a7a" text-anchor="end">400</text>
<text x="57.5" y="483.3" font-size="21" fill="#7a7a7a" text-anchor="end">500</text>
<text x="526" y="452.5" font-size="26" fill="#484848" stroke="#484848" stroke-width="0.35" textLength="200" lengthAdjust="spacingAndGlyphs">Output Power [W]</text>
<clipPath id="c2"><rect x="61.5" y="871.5" width="1129.5" height="345.5"/></clipPath>
<g clip-path="url(#c2)">
<rect x="63.2" y="1123.3" width="8.34" height="60.0" fill="#c8c8ff"/>
<polygon points="63.2,1183.3 64.1,1081.5 65.0,979.6 69.8,979.6 70.7,1081.5 71.6,1183.3" fill="#a2a2ff"/>
<rect x="66.6" y="1000.0" width="1.7" height="183.3" fill="#2020ff"/>
<rect x="72.4" y="1123.3" width="8.34" height="60.0" fill="#c8c8ff"/>
<polygon points="72.3,1183.3 73.2,1067.0 74.1,950.6 78.9,950.6 79.8,1067.0 80.7,1183.3" fill="#a2a2ff"/>
<rect x="75.7" y="973.9" width="1.7" height="209.4" fill="#2020ff"/>
<rect x="80.6" y="1123.3" width="8.34" height="60.0" fill="#c8c8ff"/>
<polygon points="80.6,1183.3 81.5,1076.5 82.4,969.8 87.2,969.8 88.1,1076.5 89.0,1183.3" fill="#a2a2ff"/>
<rect x="84.0" y="991.1" width="1.7" height="192.2" fill="#2020ff"/>
<rect x="88.9" y="1123.3" width="8.34" height="60.0" fill="#c8c8ff"/>
<polygon points="88.9,1183.3 89.8,1078.2 90.7,973.0 95.5,973.0 96.4,1078.2 97.3,1183.3" fill="#a2a2ff"/>
<rect x="92.2" y="994.1" width="1.7" height="189.2" fill="#2020ff"/>
<rect x="98.0" y="1125.8" width="8.34" height="57.5" fill="#c8c8ff"/>
<polygon points="98.0,1183.3 98.9,1093.5 99.8,1003.6 104.6,1003.6 105.5,1093.5 106.4,1183.3" fill="#a2a2ff"/>
<rect x="101.3" y="1021.6" width="1.7" height="161.7" fill="#2020ff"/>
<rect x="105.5" y="1123.3" width="8.34" height="60.0" fill="#c8c8ff"/>
<polygon points="105.4,1183.3 106.3,1069.5 107.2,955.6 112.0,955.6 112.9,1069.5 113.8,1183.3" fill="#a2a2ff"/>
<rect x="108.8" y="978.4" width="1.7" height="204.9" fill="#2020ff"/>
<rect x="114.6" y="1123.3" width="8.34" height="60.0" fill="#c8c8ff"/>
<polygon points="114.5,1183.3 115.4,1064.0 116.3,944.8 121.1,944.8 122.0,1064.0 122.9,1183.3" fill="#a2a2ff"/>
<rect x="117.9" y="968.6" width="1.7" height="214.7" fill="#2020ff"/>
<rect x="122.8" y="1123.3" width="8.34" height="60.0" fill="#c8c8ff"/>
<polygon points="122.8,1183.3 123.7,1067.0 124.6,950.6 129.4,950.6 130.3,1067.0 131.2,1183.3" fill="#a2a2ff"/>
<rect x="126.2" y="973.9" width="1.7" height="209.4" fill="#2020ff"/>
<rect x="130.3" y="1136.6" width="8.34" height="46.7" fill="#c8c8ff"/>
<polygon points="130.3,1183.3 131.2,1110.4 132.1,1037.5 136.9,1037.5 137.8,1110.4 138.7,1183.3" fill="#a2a2ff"/>
<rect x="133.6" y="1052.1" width="1.7" height="131.2" fill="#2020ff"/>
<rect x="139.4" y="1123.3" width="8.34" height="60.0" fill="#c8c8ff"/>
<polygon points="139.4,1183.3 140.3,1082.9 141.2,982.6 146.0,982.6 146.9,1082.9 147.8,1183.3" fill="#a2a2ff"/>
<rect x="142.7" y="1002.7" width="1.7" height="180.6" fill="#2020ff"/>
<rect x="147.7" y="1133.4" width="8.34" height="49.9" fill="#c8c8ff"/>
<polygon points="147.7,1183.3 148.6,1105.3 149.5,1027.3 154.3,1027.3 155.2,1105.3 156.1,1183.3" fill="#a2a2ff"/>
<rect x="151.0" y="1042.9" width="1.7" height="140.4" fill="#2020ff"/>
<rect x="155.1" y="1137.2" width="8.34" height="46.1" fill="#c8c8ff"/>
<polygon points="155.1,1183.3 156.0,1111.2 156.9,1039.2 161.7,1039.2 162.6,1111.2 163.5,1183.3" fill="#a2a2ff"/>
<rect x="158.5" y="1053.6" width="1.7" height="129.7" fill="#2020ff"/>
<rect x="164.2" y="1124.2" width="8.34" height="59.1" fill="#c8c8ff"/>
<polygon points="164.2,1183.3 165.1,1091.0 166.0,998.7 170.8,998.7 171.7,1091.0 172.6,1183.3" fill="#a2a2ff"/>
<rect x="167.6" y="1017.1" width="1.7" height="166.2" fill="#2020ff"/>
<rect x="171.7" y="1162.3" width="8.34" height="21.0" fill="#c8c8ff"/>
<polygon points="171.7,1183.3 172.6,1150.5 173.5,1117.8 178.3,1117.8 179.2,1150.5 180.1,1183.3" fill="#a2a2ff"/>
<rect x="175.0" y="1124.3" width="1.7" height="59.0" fill="#2020ff"/>
<rect x="180.8" y="1163.1" width="8.34" height="20.2" fill="#c8c8ff"/>
<polygon points="180.8,1183.3 181.7,1151.8 182.6,1120.3 187.4,1120.3 188.3,1151.8 189.2,1183.3" fill="#a2a2ff"/>
<rect x="184.1" y="1126.6" width="1.7" height="56.7" fill="#2020ff"/>
<rect x="189.1" y="1123.3" width="8.34" height="60.0" fill="#c8c8ff"/>
<polygon points="189.0,1183.3 189.9,1070.3 190.8,957.3 195.6,957.3 196.5,1070.3 197.4,1183.3" fill="#a2a2ff"/>
<rect x="192.4" y="979.9" width="1.7" height="203.4" fill="#2020ff"/>
<rect x="197.4" y="1123.3" width="8.34" height="60.0" fill="#c8c8ff"/>
<polygon points="197.3,1183.3 198.2,1070.3 199.1,957.3 203.9,957.3 204.8,1070.3 205.7,1183.3" fill="#a2a2ff"/>
<rect x="200.7" y="979.9" width="1.7" height="203.4" fill="#2020ff"/>
<rect x="205.6" y="1123.3" width="8.34" height="60.0" fill="#c8c8ff"/>
<polygon points="205.6,1183.3 206.5,1086.0 207.4,988.7 212.2,988.7 213.1,1086.0 214.0,1183.3" fill="#a2a2ff"/>
<rect x="209.0" y="1008.2" width="1.7" height="175.1" fill="#2020ff"/>
<rect x="213.9" y="1123.3" width="8.34" height="60.0" fill="#c8c8ff"/>
<polygon points="213.9,1183.3 214.8,1062.9 215.7,942.5 220.5,942.5 221.4,1062.9 222.3,1183.3" fill="#a2a2ff"/>
<rect x="217.2" y="966.5" width="1.7" height="216.8" fill="#2020ff"/>
<rect x="223.8" y="1124.2" width="8.34" height="59.1" fill="#c8c8ff"/>
<polygon points="223.8,1183.3 224.7,1091.0 225.6,998.7 230.4,998.7 231.3,1091.0 232.2,1183.3" fill="#a2a2ff"/>
<rect x="227.2" y="1017.1" width="1.7" height="166.2" fill="#2020ff"/>
<rect x="231.3" y="1123.3" width="8.34" height="60.0" fill="#c8c8ff"/>
<polygon points="231.3,1183.3 232.2,1069.5 233.1,955.6 237.9,955.6 238.8,1069.5 239.7,1183.3" fill="#a2a2ff"/>
<rect x="234.6" y="978.4" width="1.7" height="204.9" fill="#2020ff"/>
<rect x="238.7" y="1124.0" width="8.34" height="59.3" fill="#c8c8ff"/>
<polygon points="238.7,1183.3 239.6,1090.6 240.5,997.9 245.3,997.9 246.2,1090.6 247.1,1183.3" fill="#a2a2ff"/>
<rect x="242.1" y="1016.4" width="1.7" height="166.9" fill="#2020ff"/>
<rect x="247.5" y="1123.3" width="8.34" height="60.0" fill="#c8c8ff"/>
<polygon points="247.4,1183.3 248.3,1063.3 249.2,943.3 254.0,943.3 254.9,1063.3 255.8,1183.3" fill="#a2a2ff"/>
<rect x="250.8" y="967.3" width="1.7" height="216.0" fill="#2020ff"/>
<rect x="256.6" y="1123.3" width="8.34" height="60.0" fill="#c8c8ff"/>
<polygon points="256.5,1183.3 257.4,1069.5 258.3,955.6 263.1,955.6 264.0,1069.5 264.9,1183.3" fill="#a2a2ff"/>
<rect x="259.9" y="978.4" width="1.7" height="204.9" fill="#2020ff"/>
<rect x="264.8" y="1123.3" width="8.34" height="60.0" fill="#c8c8ff"/>
<polygon points="264.8,1183.3 265.7,1079.8 266.6,976.3 271.4,976.3 272.3,1079.8 273.2,1183.3" fill="#a2a2ff"/>
<rect x="268.2" y="997.0" width="1.7" height="186.3" fill="#2020ff"/>
<rect x="273.1" y="1123.3" width="8.34" height="60.0" fill="#c8c8ff"/>
<polygon points="273.1,1183.3 274.0,1081.1 274.9,978.8 279.7,978.8 280.6,1081.1 281.5,1183.3" fill="#a2a2ff"/>
<rect x="276.4" y="999.3" width="1.7" height="184.0" fill="#2020ff"/>
<rect x="281.4" y="1123.3" width="8.34" height="60.0" fill="#c8c8ff"/>
<polygon points="281.4,1183.3 282.3,1078.6 283.2,973.8 288.0,973.8 288.9,1078.6 289.8,1183.3" fill="#a2a2ff"/>
<rect x="284.7" y="994.8" width="1.7" height="188.5" fill="#2020ff"/>
<rect x="289.7" y="1123.3" width="8.34" height="60.0" fill="#c8c8ff"/>
<polygon points="289.6,1183.3 290.5,1083.5 291.4,983.7 296.2,983.7 297.1,1083.5 298.0,1183.3" fill="#a2a2ff"/>
<rect x="293.0" y="1003.7" width="1.7" height="179.6" fill="#2020ff"/>
<rect x="297.9" y="1123.3" width="8.34" height="60.0" fill="#c8c8ff"/>
<polygon points="297.9,1183.3 298.8,1081.9 299.7,980.4 304.5,980.4 305.4,1081.9 306.3,1183.3" fill="#a2a2ff"/>
<rect x="301.3" y="1000.7" width="1.7" height="182.6" fill="#2020ff"/>
<rect x="306.2" y="1123.3" width="8.34" height="60.0" fill="#c8c8ff"/>
<polygon points="306.2,1183.3 307.1,1073.6 308.0,963.9 312.8,963.9 313.7,1073.6 314.6,1183.3" fill="#a2a2ff"/>
<rect x="309.5" y="985.8" width="1.7" height="197.5" fill="#2020ff"/>
<rect x="315.3" y="1123.3" width="8.34" height="60.0" fill="#c8c8ff"/>
<polygon points="315.3,1183.3 316.2,1067.8 317.1,952.3 321.9,952.3 322.8,1067.8 323.7,1183.3" fill="#a2a2ff"/>
<rect x="318.7" y="975.4" width="1.7" height="207.9" fill="#2020ff"/>
<rect x="322.8" y="1123.3" width="8.34" height="60.0" fill="#c8c8ff"/>
<polygon points="322.8,1183.3 323.7,1080.2 324.6,977.1 329.4,977.1 330.3,1080.2 331.2,1183.3" fill="#a2a2ff"/>
<rect x="326.1" y="997.8" width="1.7" height="185.5" fill="#2020ff"/>
<rect x="331.9" y="1123.3" width="8.34" height="60.0" fill="#c8c8ff"/>
<polygon points="331.9,1183.3 332.8,1075.3 333.7,967.3 338.5,967.3 339.4,1075.3 340.3,1183.3" fill="#a2a2ff"/>
<rect x="335.2" y="988.9" width="1.7" height="194.4" fill="#2020ff"/>
<rect x="340.2" y="1123.3" width="8.34" height="60.0" fill="#c8c8ff"/>
<polygon points="340.1,1183.3 341.0,1078.2 341.9,973.0 346.7,973.0 347.6,1078.2 348.5,1183.3" fill="#a2a2ff"/>
<rect x="343.5" y="994.1" width="1.7" height="189.2" fill="#2020ff"/>
<rect x="348.4" y="1123.3" width="8.34" height="60.0" fill="#c8c8ff"/>
<polygon points="348.4,1183.3 349.3,1084.8 350.2,986.2 355.0,986.2 355.9,1084.8 356.8,1183.3" fill="#a2a2ff"/>
<rect x="351.8" y="1005.9" width="1.7" height="177.4" fill="#2020ff"/>
<rect x="356.7" y="1123.3" width="8.34" height="60.0" fill="#c8c8ff"/>
<polygon points="356.7,1183.3 357.6,1085.6 358.5,987.9 363.3,987.9 364.2,1085.6 365.1,1183.3" fill="#a2a2ff"/>
<rect x="360.0" y="1007.4" width="1.7" height="175.9" fill="#2020ff"/>
<rect x="365.0" y="1126.6" width="8.34" height="56.7" fill="#c8c8ff"/>
<polygon points="365.0,1183.3 365.9,1094.7 366.8,1006.1 371.6,1006.1 372.5,1094.7 373.4,1183.3" fill="#a2a2ff"/>
<rect x="368.3" y="1023.8" width="1.7" height="159.5" fill="#2020ff"/>
<rect x="373.3" y="1123.3" width="8.34" height="60.0" fill="#c8c8ff"/>
<polygon points="373.3,1183.3 374.2,1081.5 375.1,979.6 379.9,979.6 380.8,1081.5 381.7,1183.3" fill="#a2a2ff"/>
<rect x="376.6" y="1000.0" width="1.7" height="183.3" fill="#2020ff"/>
<rect x="381.6" y="1130.3" width="8.34" height="53.0" fill="#c8c8ff"/>
<polygon points="381.5,1183.3 382.4,1100.5 383.3,1017.8 388.1,1017.8 389.0,1100.5 389.9,1183.3" fill="#a2a2ff"/>
<rect x="384.9" y="1034.3" width="1.7" height="149.0" fill="#2020ff"/>
<rect x="390.7" y="1178.5" width="8.34" height="4.8" fill="#c8c8ff"/>
<polygon points="390.6,1183.3 391.5,1175.8 392.4,1168.3 397.2,1168.3 398.1,1175.8 399.0,1183.3" fill="#a2a2ff"/>
<rect x="394.0" y="1169.8" width="1.7" height="13.5" fill="#2020ff"/>
<rect x="398.1" y="1123.3" width="8.34" height="60.0" fill="#c8c8ff"/>
<polygon points="398.1,1183.3 399.0,1074.0 399.9,964.7 404.7,964.7 405.6,1074.0 406.5,1183.3" fill="#a2a2ff"/>
<rect x="401.4" y="986.6" width="1.7" height="196.7" fill="#2020ff"/>
<rect x="406.4" y="1175.3" width="8.34" height="8.0" fill="#c8c8ff"/>
<polygon points="406.4,1183.3 407.3,1170.9 408.2,1158.4 413.0,1158.4 413.9,1170.9 414.8,1183.3" fill="#a2a2ff"/>
<rect x="409.7" y="1160.9" width="1.7" height="22.4" fill="#2020ff"/>
<rect x="414.7" y="1141.5" width="8.34" height="41.8" fill="#c8c8ff"/>
<polygon points="414.6,1183.3 415.5,1117.9 416.4,1052.5 421.2,1052.5 422.1,1117.9 423.0,1183.3" fill="#a2a2ff"/>
<rect x="418.0" y="1065.6" width="1.7" height="117.7" fill="#2020ff"/>
<rect x="423.8" y="1165.0" width="8.34" height="18.3" fill="#c8c8ff"/>
<polygon points="423.7,1183.3 424.6,1154.7 425.5,1126.1 430.3,1126.1 431.2,1154.7 432.1,1183.3" fill="#a2a2ff"/>
<rect x="427.1" y="1131.9" width="1.7" height="51.4" fill="#2020ff"/>
<rect x="432.9" y="1140.1" width="8.34" height="43.2" fill="#c8c8ff"/>
<polygon points="432.9,1183.3 433.8,1115.8 434.7,1048.3 439.5,1048.3 440.4,1115.8 441.3,1183.3" fill="#a2a2ff"/>
<rect x="436.2" y="1061.8" width="1.7" height="121.5" fill="#2020ff"/>
<rect x="440.0" y="1123.3" width="8.34" height="60.0" fill="#c8c8ff"/>
<polygon points="439.9,1183.3 440.8,1084.8 441.7,986.2 446.5,986.2 447.4,1084.8 448.3,1183.3" fill="#a2a2ff"/>
<rect x="443.3" y="1005.9" width="1.7" height="177.4" fill="#2020ff"/>
<rect x="449.1" y="1126.9" width="8.34" height="56.4" fill="#c8c8ff"/>
<polygon points="449.0,1183.3 449.9,1095.1 450.8,1006.9 455.6,1006.9 456.5,1095.1 457.4,1183.3" fill="#a2a2ff"/>
<rect x="452.4" y="1024.6" width="1.7" height="158.7" fill="#2020ff"/>
<rect x="457.0" y="1123.3" width="8.34" height="60.0" fill="#c8c8ff"/>
<polygon points="457.0,1183.3 457.9,1080.6 458.8,977.9 463.6,977.9 464.5,1080.6 465.4,1183.3" fill="#a2a2ff"/>
<rect x="460.3" y="998.5" width="1.7" height="184.8" fill="#2020ff"/>
<rect x="465.6" y="1123.3" width="8.34" height="60.0" fill="#c8c8ff"/>
<polygon points="465.6,1183.3 466.5,1078.6 467.4,973.8 472.2,973.8 473.1,1078.6 474.0,1183.3" fill="#a2a2ff"/>
<rect x="469.0" y="994.8" width="1.7" height="188.5" fill="#2020ff"/>
<rect x="473.6" y="1123.3" width="8.34" height="60.0" fill="#c8c8ff"/>
<polygon points="473.5,1183.3 474.4,1088.0 475.3,992.8 480.1,992.8 481.0,1088.0 481.9,1183.3" fill="#a2a2ff"/>
<rect x="476.9" y="1011.8" width="1.7" height="171.5" fill="#2020ff"/>
<rect x="482.5" y="1144.6" width="8.34" height="38.7" fill="#c8c8ff"/>
<polygon points="482.5,1183.3 483.4,1122.8 484.3,1062.4 489.1,1062.4 490.0,1122.8 490.9,1183.3" fill="#a2a2ff"/>
<rect x="485.8" y="1074.5" width="1.7" height="108.8" fill="#2020ff"/>
<rect x="490.5" y="1139.6" width="8.34" height="43.7" fill="#c8c8ff"/>
<polygon points="490.4,1183.3 491.3,1115.0 492.2,1046.7 497.0,1046.7 497.9,1115.0 498.8,1183.3" fill="#a2a2ff"/>
<rect x="493.8" y="1060.4" width="1.7" height="122.9" fill="#2020ff"/>
<rect x="498.7" y="1152.0" width="8.34" height="31.3" fill="#c8c8ff"/>
<polygon points="498.7,1183.3 499.6,1134.4 500.5,1085.6 505.3,1085.6 506.2,1134.4 507.1,1183.3" fill="#a2a2ff"/>
<rect x="502.1" y="1095.4" width="1.7" height="87.9" fill="#2020ff"/>
<rect x="507.8" y="1163.9" width="8.34" height="19.4" fill="#c8c8ff"/>
<polygon points="507.8,1183.3 508.7,1153.0 509.6,1122.8 514.4,1122.8 515.3,1153.0 516.2,1183.3" fill="#a2a2ff"/>
<rect x="511.2" y="1128.8" width="1.7" height="54.5" fill="#2020ff"/>
<rect x="515.3" y="1174.0" width="8.34" height="9.3" fill="#c8c8ff"/>
<polygon points="515.3,1183.3 516.2,1168.8 517.1,1154.3 521.9,1154.3 522.8,1168.8 523.7,1183.3" fill="#a2a2ff"/>
<rect x="518.6" y="1157.2" width="1.7" height="26.1" fill="#2020ff"/>
<rect x="523.2" y="1178.0" width="8.34" height="5.3" fill="#c8c8ff"/>
<polygon points="523.2,1183.3 524.1,1175.0 525.0,1166.7 529.8,1166.7 530.7,1175.0 531.6,1183.3" fill="#a2a2ff"/>
<rect x="526.6" y="1168.3" width="1.7" height="15.0" fill="#2020ff"/>
<rect x="532.2" y="1168.5" width="8.34" height="14.8" fill="#c8c8ff"/>
<polygon points="532.2,1183.3 533.1,1160.1 534.0,1136.9 538.8,1136.9 539.7,1160.1 540.6,1183.3" fill="#a2a2ff"/>
<rect x="535.5" y="1141.5" width="1.7" height="41.8" fill="#2020ff"/>
<rect x="541.0" y="1171.4" width="8.34" height="11.9" fill="#c8c8ff"/>
<polygon points="540.9,1183.3 541.8,1164.6 542.7,1146.0 547.5,1146.0 548.4,1164.6 549.3,1183.3" fill="#a2a2ff"/>
<rect x="544.3" y="1149.7" width="1.7" height="33.6" fill="#2020ff"/>
<rect x="548.7" y="1152.8" width="8.34" height="30.5" fill="#c8c8ff"/>
<polygon points="548.7,1183.3 549.6,1135.7 550.5,1088.0 555.3,1088.0 556.2,1135.7 557.1,1183.3" fill="#a2a2ff"/>
<rect x="552.1" y="1097.5" width="1.7" height="85.8" fill="#2020ff"/>
<rect x="557.5" y="1176.6" width="8.34" height="6.7" fill="#c8c8ff"/>
<polygon points="557.5,1183.3 558.4,1172.9 559.3,1162.5 564.1,1162.5 565.0,1172.9 565.9,1183.3" fill="#a2a2ff"/>
<rect x="560.8" y="1164.6" width="1.7" height="18.7" fill="#2020ff"/>
<rect x="565.3" y="1169.8" width="8.34" height="13.5" fill="#c8c8ff"/>
<polygon points="565.3,1183.3 566.2,1162.1 567.1,1141.0 571.9,1141.0 572.8,1162.1 573.7,1183.3" fill="#a2a2ff"/>
<rect x="568.6" y="1145.2" width="1.7" height="38.1" fill="#2020ff"/>
<rect x="574.1" y="1124.2" width="8.34" height="59.1" fill="#c8c8ff"/>
<polygon points="574.0,1183.3 574.9,1091.0 575.8,998.7 580.6,998.7 581.5,1091.0 582.4,1183.3" fill="#a2a2ff"/>
<rect x="577.4" y="1017.1" width="1.7" height="166.2" fill="#2020ff"/>
<rect x="582.8" y="1141.5" width="8.34" height="41.8" fill="#c8c8ff"/>
<polygon points="582.8,1183.3 583.7,1117.9 584.6,1052.5 589.4,1052.5 590.3,1117.9 591.2,1183.3" fill="#a2a2ff"/>
<rect x="586.2" y="1065.6" width="1.7" height="117.7" fill="#2020ff"/>
<rect x="591.8" y="1169.2" width="8.34" height="14.1" fill="#c8c8ff"/>
<polygon points="591.8,1183.3 592.7,1161.3 593.6,1139.4 598.4,1139.4 599.3,1161.3 600.2,1183.3" fill="#a2a2ff"/>
<rect x="595.1" y="1143.8" width="1.7" height="39.5" fill="#2020ff"/>
<rect x="598.9" y="1138.3" width="8.34" height="45.0" fill="#c8c8ff"/>
<polygon points="598.9,1183.3 599.8,1112.9 600.7,1042.6 605.5,1042.6 606.4,1112.9 607.3,1183.3" fill="#a2a2ff"/>
<rect x="602.2" y="1056.6" width="1.7" height="126.7" fill="#2020ff"/>
<rect x="608.0" y="1164.5" width="8.34" height="18.8" fill="#c8c8ff"/>
<polygon points="608.0,1183.3 608.9,1153.9 609.8,1124.5 614.6,1124.5 615.5,1153.9 616.4,1183.3" fill="#a2a2ff"/>
<rect x="611.3" y="1130.4" width="1.7" height="52.9" fill="#2020ff"/>
<rect x="616.3" y="1141.2" width="8.34" height="42.1" fill="#c8c8ff"/>
<polygon points="616.3,1183.3 617.2,1117.5 618.1,1051.6 622.9,1051.6 623.8,1117.5 624.7,1183.3" fill="#a2a2ff"/>
<rect x="619.6" y="1064.8" width="1.7" height="118.5" fill="#2020ff"/>
<rect x="624.9" y="1158.4" width="8.34" height="24.9" fill="#c8c8ff"/>
<polygon points="624.9,1183.3 625.8,1144.4 626.7,1105.4 631.5,1105.4 632.4,1144.4 633.3,1183.3" fill="#a2a2ff"/>
<rect x="628.2" y="1113.2" width="1.7" height="70.1" fill="#2020ff"/>
<rect x="632.5" y="1165.1" width="8.34" height="18.2" fill="#c8c8ff"/>
<polygon points="632.5,1183.3 633.4,1154.9 634.3,1126.5 639.1,1126.5 640.0,1154.9 640.9,1183.3" fill="#a2a2ff"/>
<rect x="635.8" y="1132.2" width="1.7" height="51.1" fill="#2020ff"/>
<rect x="640.3" y="1157.3" width="8.34" height="26.0" fill="#c8c8ff"/>
<polygon points="640.2,1183.3 641.1,1142.7 642.0,1102.1 646.8,1102.1 647.7,1142.7 648.6,1183.3" fill="#a2a2ff"/>
<rect x="643.6" y="1110.3" width="1.7" height="73.0" fill="#2020ff"/>
<rect x="649.0" y="1162.1" width="8.34" height="21.2" fill="#c8c8ff"/>
<polygon points="649.0,1183.3 649.9,1150.1 650.8,1117.0 655.6,1117.0 656.5,1150.1 657.4,1183.3" fill="#a2a2ff"/>
<rect x="652.4" y="1123.6" width="1.7" height="59.7" fill="#2020ff"/>
<rect x="657.3" y="1153.9" width="8.34" height="29.4" fill="#c8c8ff"/>
<polygon points="657.3,1183.3 658.2,1137.3 659.1,1091.3 663.9,1091.3 664.8,1137.3 665.7,1183.3" fill="#a2a2ff"/>
<rect x="660.6" y="1100.5" width="1.7" height="82.8" fill="#2020ff"/>
<rect x="666.4" y="1162.9" width="8.34" height="20.4" fill="#c8c8ff"/>
<polygon points="666.4,1183.3 667.3,1151.4 668.2,1119.5 673.0,1119.5 673.9,1151.4 674.8,1183.3" fill="#a2a2ff"/>
<rect x="669.7" y="1125.9" width="1.7" height="57.4" fill="#2020ff"/>
<rect x="673.5" y="1168.2" width="8.34" height="15.1" fill="#c8c8ff"/>
<polygon points="673.5,1183.3 674.4,1159.7 675.3,1136.0 680.1,1136.0 681.0,1159.7 681.9,1183.3" fill="#a2a2ff"/>
<rect x="676.9" y="1140.7" width="1.7" height="42.6" fill="#2020ff"/>
<rect x="683.5" y="1152.8" width="8.34" height="30.5" fill="#c8c8ff"/>
<polygon points="683.4,1183.3 684.3,1135.7 685.2,1088.0 690.0,1088.0 690.9,1135.7 691.8,1183.3" fill="#a2a2ff"/>
<rect x="686.8" y="1097.5" width="1.7" height="85.8" fill="#2020ff"/>
<rect x="690.8" y="1176.4" width="8.34" height="6.9" fill="#c8c8ff"/>
<polygon points="690.7,1183.3 691.6,1172.5 692.5,1161.7 697.3,1161.7 698.2,1172.5 699.1,1183.3" fill="#a2a2ff"/>
<rect x="694.1" y="1163.9" width="1.7" height="19.4" fill="#2020ff"/>
<rect x="700.0" y="1168.7" width="8.34" height="14.6" fill="#c8c8ff"/>
<polygon points="700.0,1183.3 700.9,1160.5 701.8,1137.7 706.6,1137.7 707.5,1160.5 708.4,1183.3" fill="#a2a2ff"/>
<rect x="703.4" y="1142.3" width="1.7" height="41.0" fill="#2020ff"/>
<rect x="707.8" y="1176.1" width="8.34" height="7.2" fill="#c8c8ff"/>
<polygon points="707.8,1183.3 708.7,1172.1 709.6,1160.9 714.4,1160.9 715.3,1172.1 716.2,1183.3" fill="#a2a2ff"/>
<rect x="711.1" y="1163.1" width="1.7" height="20.2" fill="#2020ff"/>
<rect x="715.6" y="1153.3" width="8.34" height="30.0" fill="#c8c8ff"/>
<polygon points="715.6,1183.3 716.5,1136.5 717.4,1089.7 722.2,1089.7 723.1,1136.5 724.0,1183.3" fill="#a2a2ff"/>
<rect x="718.9" y="1099.1" width="1.7" height="84.2" fill="#2020ff"/>
<rect x="724.4" y="1178.8" width="8.34" height="4.5" fill="#c8c8ff"/>
<polygon points="724.3,1183.3 725.2,1176.2 726.1,1169.1 730.9,1169.1 731.8,1176.2 732.7,1183.3" fill="#a2a2ff"/>
<rect x="727.7" y="1170.5" width="1.7" height="12.8" fill="#2020ff"/>
<rect x="733.1" y="1180.3" width="8.34" height="3.0" fill="#c8c8ff"/>
<polygon points="733.1,1183.3 734.0,1178.7 734.9,1174.1 739.7,1174.1 740.6,1178.7 741.5,1183.3" fill="#a2a2ff"/>
<rect x="736.5" y="1175.0" width="1.7" height="8.3" fill="#2020ff"/>
<rect x="742.1" y="1161.8" width="8.34" height="21.5" fill="#c8c8ff"/>
<polygon points="742.1,1183.3 743.0,1149.7 743.9,1116.2 748.7,1116.2 749.6,1149.7 750.5,1183.3" fill="#a2a2ff"/>
<rect x="745.4" y="1122.9" width="1.7" height="60.4" fill="#2020ff"/>
<rect x="749.7" y="1171.4" width="8.34" height="11.9" fill="#c8c8ff"/>
<polygon points="749.7,1183.3 750.6,1164.6 751.5,1146.0 756.3,1146.0 757.2,1164.6 758.1,1183.3" fill="#a2a2ff"/>
<rect x="753.0" y="1149.7" width="1.7" height="33.6" fill="#2020ff"/>
<rect x="757.5" y="1178.0" width="8.34" height="5.3" fill="#c8c8ff"/>
<polygon points="757.5,1183.3 758.4,1175.0 759.3,1166.7 764.1,1166.7 765.0,1175.0 765.9,1183.3" fill="#a2a2ff"/>
<rect x="760.8" y="1168.3" width="1.7" height="15.0" fill="#2020ff"/>
<rect x="766.3" y="1179.5" width="8.34" height="3.8" fill="#c8c8ff"/>
<polygon points="766.2,1183.3 767.1,1177.4 768.0,1171.6 772.8,1171.6 773.7,1177.4 774.6,1183.3" fill="#a2a2ff"/>
<rect x="769.6" y="1172.8" width="1.7" height="10.5" fill="#2020ff"/>
<rect x="775.2" y="1181.4" width="8.34" height="1.9" fill="#c8c8ff"/>
<polygon points="775.2,1183.3 776.1,1180.4 777.0,1177.4 781.8,1177.4 782.7,1180.4 783.6,1183.3" fill="#a2a2ff"/>
<rect x="778.5" y="1178.0" width="1.7" height="5.3" fill="#2020ff"/>
<rect x="782.8" y="1172.2" width="8.34" height="11.1" fill="#c8c8ff"/>
<polygon points="782.8,1183.3 783.7,1165.9 784.6,1148.5 789.4,1148.5 790.3,1165.9 791.2,1183.3" fill="#a2a2ff"/>
<rect x="786.1" y="1151.9" width="1.7" height="31.4" fill="#2020ff"/>
<rect x="790.6" y="1170.8" width="8.34" height="12.5" fill="#c8c8ff"/>
<polygon points="790.6,1183.3 791.5,1163.8 792.4,1144.3 797.2,1144.3 798.1,1163.8 799.0,1183.3" fill="#a2a2ff"/>
<rect x="793.9" y="1148.2" width="1.7" height="35.1" fill="#2020ff"/>
<rect x="799.4" y="1167.4" width="8.34" height="15.9" fill="#c8c8ff"/>
<polygon points="799.3,1183.3 800.2,1158.4 801.1,1133.5 805.9,1133.5 806.8,1158.4 807.7,1183.3" fill="#a2a2ff"/>
<rect x="802.7" y="1138.5" width="1.7" height="44.8" fill="#2020ff"/>
<rect x="808.3" y="1167.1" width="8.34" height="16.2" fill="#c8c8ff"/>
<polygon points="808.3,1183.3 809.2,1158.0 810.1,1132.7 814.9,1132.7 815.8,1158.0 816.7,1183.3" fill="#a2a2ff"/>
<rect x="811.6" y="1137.8" width="1.7" height="45.5" fill="#2020ff"/>
<rect x="815.9" y="1172.2" width="8.34" height="11.1" fill="#c8c8ff"/>
<polygon points="815.9,1183.3 816.8,1165.9 817.7,1148.5 822.5,1148.5 823.4,1165.9 824.3,1183.3" fill="#a2a2ff"/>
<rect x="819.2" y="1151.9" width="1.7" height="31.4" fill="#2020ff"/>
<rect x="826.7" y="1179.3" width="8.34" height="4.0" fill="#c8c8ff"/>
<polygon points="826.6,1183.3 827.5,1177.0 828.4,1170.8 833.2,1170.8 834.1,1177.0 835.0,1183.3" fill="#a2a2ff"/>
<rect x="830.0" y="1172.0" width="1.7" height="11.3" fill="#2020ff"/>
<rect x="832.5" y="1175.6" width="8.34" height="7.7" fill="#c8c8ff"/>
<polygon points="832.4,1183.3 833.3,1171.3 834.2,1159.2 839.0,1159.2 839.9,1171.3 840.8,1183.3" fill="#a2a2ff"/>
<rect x="835.8" y="1161.6" width="1.7" height="21.7" fill="#2020ff"/>
<rect x="841.2" y="1171.8" width="8.34" height="11.5" fill="#c8c8ff"/>
<polygon points="841.2,1183.3 842.1,1165.3 843.0,1147.3 847.8,1147.3 848.7,1165.3 849.6,1183.3" fill="#a2a2ff"/>
<rect x="844.5" y="1150.9" width="1.7" height="32.4" fill="#2020ff"/>
<rect x="850.3" y="1173.9" width="8.34" height="9.4" fill="#c8c8ff"/>
<polygon points="850.3,1183.3 851.2,1168.6 852.1,1153.9 856.9,1153.9 857.8,1168.6 858.7,1183.3" fill="#a2a2ff"/>
<rect x="853.7" y="1156.9" width="1.7" height="26.4" fill="#2020ff"/>
<rect x="857.8" y="1177.7" width="8.34" height="5.6" fill="#c8c8ff"/>
<polygon points="857.8,1183.3 858.7,1174.5 859.6,1165.8 864.4,1165.8 865.3,1174.5 866.2,1183.3" fill="#a2a2ff"/>
<rect x="861.1" y="1167.5" width="1.7" height="15.8" fill="#2020ff"/>
<rect x="866.9" y="1172.7" width="8.34" height="10.6" fill="#c8c8ff"/>
<polygon points="866.9,1183.3 867.8,1166.7 868.7,1150.1 873.5,1150.1 874.4,1166.7 875.3,1183.3" fill="#a2a2ff"/>
<rect x="870.2" y="1153.5" width="1.7" height="29.8" fill="#2020ff"/>
<rect x="874.3" y="1169.1" width="8.34" height="14.2" fill="#c8c8ff"/>
<polygon points="874.3,1183.3 875.2,1161.1 876.1,1139.0 880.9,1139.0 881.8,1161.1 882.7,1183.3" fill="#a2a2ff"/>
<rect x="877.7" y="1143.4" width="1.7" height="39.9" fill="#2020ff"/>
<rect x="882.9" y="1173.7" width="8.34" height="9.6" fill="#c8c8ff"/>
<polygon points="882.9,1183.3 883.8,1168.4 884.7,1153.4 889.5,1153.4 890.4,1168.4 891.3,1183.3" fill="#a2a2ff"/>
<rect x="886.3" y="1156.4" width="1.7" height="26.9" fill="#2020ff"/>
<rect x="892.1" y="1172.4" width="8.34" height="10.9" fill="#c8c8ff"/>
<polygon points="892.0,1183.3 892.9,1166.3 893.8,1149.3 898.6,1149.3 899.5,1166.3 900.4,1183.3" fill="#a2a2ff"/>
<rect x="895.4" y="1152.7" width="1.7" height="30.6" fill="#2020ff"/>
<rect x="901.2" y="1175.1" width="8.34" height="8.2" fill="#c8c8ff"/>
<polygon points="901.1,1183.3 902.0,1170.4 902.9,1157.5 907.7,1157.5 908.6,1170.4 909.5,1183.3" fill="#a2a2ff"/>
<rect x="904.5" y="1160.1" width="1.7" height="23.2" fill="#2020ff"/>
<rect x="908.6" y="1174.5" width="8.34" height="8.8" fill="#c8c8ff"/>
<polygon points="908.6,1183.3 909.5,1169.6 910.4,1155.9 915.2,1155.9 916.1,1169.6 917.0,1183.3" fill="#a2a2ff"/>
<rect x="911.9" y="1158.7" width="1.7" height="24.6" fill="#2020ff"/>
<rect x="916.1" y="1179.3" width="8.34" height="4.0" fill="#c8c8ff"/>
<polygon points="916.0,1183.3 916.9,1177.0 917.8,1170.8 922.6,1170.8 923.5,1177.0 924.4,1183.3" fill="#a2a2ff"/>
<rect x="919.4" y="1172.0" width="1.7" height="11.3" fill="#2020ff"/>
<rect x="925.2" y="1170.0" width="8.34" height="13.3" fill="#c8c8ff"/>
<polygon points="925.1,1183.3 926.0,1162.5 926.9,1141.8 931.7,1141.8 932.6,1162.5 933.5,1183.3" fill="#a2a2ff"/>
<rect x="928.5" y="1145.9" width="1.7" height="37.4" fill="#2020ff"/>
<rect x="933.4" y="1177.7" width="8.34" height="5.6" fill="#c8c8ff"/>
<polygon points="933.4,1183.3 934.3,1174.5 935.2,1165.8 940.0,1165.8 940.9,1174.5 941.8,1183.3" fill="#a2a2ff"/>
<rect x="936.8" y="1167.5" width="1.7" height="15.8" fill="#2020ff"/>
<rect x="942.2" y="1175.9" width="8.34" height="7.4" fill="#c8c8ff"/>
<polygon points="942.2,1183.3 943.1,1171.7 944.0,1160.0 948.8,1160.0 949.7,1171.7 950.6,1183.3" fill="#a2a2ff"/>
<rect x="945.5" y="1162.3" width="1.7" height="21.0" fill="#2020ff"/>
<rect x="950.8" y="1172.7" width="8.34" height="10.6" fill="#c8c8ff"/>
<polygon points="950.8,1183.3 951.7,1166.7 952.6,1150.1 957.4,1150.1 958.3,1166.7 959.2,1183.3" fill="#a2a2ff"/>
<rect x="954.1" y="1153.5" width="1.7" height="29.8" fill="#2020ff"/>
<rect x="958.3" y="1170.6" width="8.34" height="12.7" fill="#c8c8ff"/>
<polygon points="958.3,1183.3 959.2,1163.4 960.1,1143.5 964.9,1143.5 965.8,1163.4 966.7,1183.3" fill="#a2a2ff"/>
<rect x="961.6" y="1147.5" width="1.7" height="35.8" fill="#2020ff"/>
<rect x="967.4" y="1170.6" width="8.34" height="12.7" fill="#c8c8ff"/>
<polygon points="967.4,1183.3 968.3,1163.4 969.2,1143.5 974.0,1143.5 974.9,1163.4 975.8,1183.3" fill="#a2a2ff"/>
<rect x="970.7" y="1147.5" width="1.7" height="35.8" fill="#2020ff"/>
<rect x="974.8" y="1177.7" width="8.34" height="5.6" fill="#c8c8ff"/>
<polygon points="974.8,1183.3 975.7,1174.5 976.6,1165.8 981.4,1165.8 982.3,1174.5 983.2,1183.3" fill="#a2a2ff"/>
<rect x="978.2" y="1167.5" width="1.7" height="15.8" fill="#2020ff"/>
<rect x="983.4" y="1174.0" width="8.34" height="9.3" fill="#c8c8ff"/>
<polygon points="983.4,1183.3 984.3,1168.8 985.2,1154.2 990.0,1154.2 990.9,1168.8 991.8,1183.3" fill="#a2a2ff"/>
<rect x="986.8" y="1157.1" width="1.7" height="26.2" fill="#2020ff"/>
<rect x="991.4" y="1180.6" width="8.34" height="2.7" fill="#c8c8ff"/>
<polygon points="991.4,1183.3 992.3,1179.1 993.2,1174.9 998.0,1174.9 998.9,1179.1 999.8,1183.3" fill="#a2a2ff"/>
<rect x="994.7" y="1175.7" width="1.7" height="7.6" fill="#2020ff"/>
<rect x="1000.5" y="1179.5" width="8.34" height="3.8" fill="#c8c8ff"/>
<polygon points="1000.5,1183.3 1001.4,1177.4 1002.3,1171.6 1007.1,1171.6 1008.0,1177.4 1008.9,1183.3" fill="#a2a2ff"/>
<rect x="1003.8" y="1172.8" width="1.7" height="10.5" fill="#2020ff"/>
<rect x="1009.0" y="1182.5" width="8.34" height="0.8" fill="#c8c8ff"/>
<polygon points="1008.9,1183.3 1009.8,1182.0 1010.7,1180.7 1015.5,1180.7 1016.4,1182.0 1017.3,1183.3" fill="#a2a2ff"/>
<rect x="1012.3" y="1181.0" width="1.7" height="2.3" fill="#2020ff"/>
<rect x="1016.8" y="1179.9" width="8.34" height="3.4" fill="#c8c8ff"/>
<polygon points="1016.8,1183.3 1017.7,1178.0 1018.6,1172.8 1023.4,1172.8 1024.3,1178.0 1025.2,1183.3" fill="#a2a2ff"/>
<rect x="1020.2" y="1173.8" width="1.7" height="9.5" fill="#2020ff"/>
<rect x="1025.5" y="1180.7" width="8.34" height="2.6" fill="#c8c8ff"/>
<polygon points="1025.5,1183.3 1026.4,1179.2 1027.3,1175.2 1032.1,1175.2 1033.0,1179.2 1033.9,1183.3" fill="#a2a2ff"/>
<rect x="1028.8" y="1176.0" width="1.7" height="7.3" fill="#2020ff"/>
<rect x="1033.4" y="1183.0" width="8.34" height="0.3" fill="#c8c8ff"/>
<polygon points="1033.3,1183.3 1034.2,1182.9 1035.1,1182.5 1039.9,1182.5 1040.8,1182.9 1041.7,1183.3" fill="#a2a2ff"/>
<rect x="1036.7" y="1182.6" width="1.7" height="0.7" fill="#2020ff"/>
<rect x="1042.0" y="1179.7" width="8.34" height="3.6" fill="#c8c8ff"/>
<polygon points="1042.0,1183.3 1042.9,1177.6 1043.8,1172.0 1048.6,1172.0 1049.5,1177.6 1050.4,1183.3" fill="#a2a2ff"/>
<rect x="1045.3" y="1173.1" width="1.7" height="10.2" fill="#2020ff"/>
<rect x="1051.1" y="1180.7" width="8.34" height="2.6" fill="#c8c8ff"/>
<polygon points="1051.1,1183.3 1052.0,1179.2 1052.9,1175.2 1057.7,1175.2 1058.6,1179.2 1059.5,1183.3" fill="#a2a2ff"/>
<rect x="1054.4" y="1176.0" width="1.7" height="7.3" fill="#2020ff"/>
<rect x="1058.5" y="1179.7" width="8.34" height="3.6" fill="#c8c8ff"/>
<polygon points="1058.5,1183.3 1059.4,1177.6 1060.3,1172.0 1065.1,1172.0 1066.0,1177.6 1066.9,1183.3" fill="#a2a2ff"/>
<rect x="1061.8" y="1173.1" width="1.7" height="10.2" fill="#2020ff"/>
<rect x="1067.2" y="1180.7" width="8.34" height="2.6" fill="#c8c8ff"/>
<polygon points="1067.1,1183.3 1068.0,1179.2 1068.9,1175.2 1073.7,1175.2 1074.6,1179.2 1075.5,1183.3" fill="#a2a2ff"/>
<rect x="1070.5" y="1176.0" width="1.7" height="7.3" fill="#2020ff"/>
<rect x="1075.0" y="1178.7" width="8.34" height="4.6" fill="#c8c8ff"/>
<polygon points="1075.0,1183.3 1075.9,1176.1 1076.8,1168.9 1081.6,1168.9 1082.5,1176.1 1083.4,1183.3" fill="#a2a2ff"/>
<rect x="1078.4" y="1170.4" width="1.7" height="12.9" fill="#2020ff"/>
<rect x="1083.7" y="1178.7" width="8.34" height="4.6" fill="#c8c8ff"/>
<polygon points="1083.7,1183.3 1084.6,1176.1 1085.5,1168.9 1090.3,1168.9 1091.2,1176.1 1092.1,1183.3" fill="#a2a2ff"/>
<rect x="1087.0" y="1170.4" width="1.7" height="12.9" fill="#2020ff"/>
<rect x="1091.5" y="1180.7" width="8.34" height="2.6" fill="#c8c8ff"/>
<polygon points="1091.5,1183.3 1092.4,1179.2 1093.3,1175.2 1098.1,1175.2 1099.0,1179.2 1099.9,1183.3" fill="#a2a2ff"/>
<rect x="1094.9" y="1176.0" width="1.7" height="7.3" fill="#2020ff"/>
<rect x="1101.0" y="1178.9" width="8.34" height="4.4" fill="#c8c8ff"/>
<polygon points="1101.0,1183.3 1101.9,1176.5 1102.8,1169.7 1107.6,1169.7 1108.5,1176.5 1109.4,1183.3" fill="#a2a2ff"/>
<rect x="1104.3" y="1171.0" width="1.7" height="12.3" fill="#2020ff"/>
<rect x="1108.1" y="1179.7" width="8.34" height="3.6" fill="#c8c8ff"/>
<polygon points="1108.0,1183.3 1108.9,1177.6 1109.8,1172.0 1114.6,1172.0 1115.5,1177.6 1116.4,1183.3" fill="#a2a2ff"/>
<rect x="1111.4" y="1173.1" width="1.7" height="10.2" fill="#2020ff"/>
<rect x="1117.2" y="1169.4" width="8.34" height="13.9" fill="#c8c8ff"/>
<polygon points="1117.2,1183.3 1118.1,1161.5 1119.0,1139.8 1123.8,1139.8 1124.7,1161.5 1125.6,1183.3" fill="#a2a2ff"/>
<rect x="1120.5" y="1144.1" width="1.7" height="39.2" fill="#2020ff"/>
<rect x="1126.2" y="1180.7" width="8.34" height="2.6" fill="#c8c8ff"/>
<polygon points="1126.1,1183.3 1127.0,1179.2 1127.9,1175.2 1132.7,1175.2 1133.6,1179.2 1134.5,1183.3" fill="#a2a2ff"/>
<rect x="1129.5" y="1176.0" width="1.7" height="7.3" fill="#2020ff"/>
<rect x="1134.0" y="1180.7" width="8.34" height="2.6" fill="#c8c8ff"/>
<polygon points="1134.0,1183.3 1134.9,1179.2 1135.8,1175.2 1140.6,1175.2 1141.5,1179.2 1142.4,1183.3" fill="#a2a2ff"/>
<rect x="1137.3" y="1176.0" width="1.7" height="7.3" fill="#2020ff"/>
<rect x="1142.7" y="1175.9" width="8.34" height="7.4" fill="#c8c8ff"/>
<polygon points="1142.6,1183.3 1143.5,1171.7 1144.4,1160.2 1149.2,1160.2 1150.1,1171.7 1151.0,1183.3" fill="#a2a2ff"/>
<rect x="1146.0" y="1162.5" width="1.7" height="20.8" fill="#2020ff"/>
<rect x="1150.2" y="1173.2" width="8.34" height="10.1" fill="#c8c8ff"/>
<polygon points="1150.2,1183.3 1151.1,1167.4 1152.0,1151.6 1156.8,1151.6 1157.7,1167.4 1158.6,1183.3" fill="#a2a2ff"/>
<rect x="1153.5" y="1154.8" width="1.7" height="28.5" fill="#2020ff"/>
<rect x="1159.2" y="1172.9" width="8.34" height="10.4" fill="#c8c8ff"/>
<polygon points="1159.2,1183.3 1160.1,1167.0 1161.0,1150.8 1165.8,1150.8 1166.7,1167.0 1167.6,1183.3" fill="#a2a2ff"/>
<rect x="1162.5" y="1154.0" width="1.7" height="29.3" fill="#2020ff"/>
<rect x="1168.6" y="1180.7" width="8.34" height="2.6" fill="#c8c8ff"/>
<polygon points="1168.6,1183.3 1169.5,1179.2 1170.4,1175.2 1175.2,1175.2 1176.1,1179.2 1177.0,1183.3" fill="#a2a2ff"/>
<rect x="1171.9" y="1176.0" width="1.7" height="7.3" fill="#2020ff"/>
<rect x="1175.7" y="1177.7" width="8.34" height="5.6" fill="#c8c8ff"/>
<polygon points="1175.7,1183.3 1176.6,1174.5 1177.5,1165.7 1182.3,1165.7 1183.2,1174.5 1184.1,1183.3" fill="#a2a2ff"/>
<rect x="1179.0" y="1167.5" width="1.7" height="15.8" fill="#2020ff"/>
<rect x="1183.6" y="1179.7" width="8.34" height="3.6" fill="#c8c8ff"/>
<polygon points="1183.5,1183.3 1184.4,1177.6 1185.3,1172.0 1190.1,1172.0 1191.0,1177.6 1191.9,1183.3" fill="#a2a2ff"/>
<rect x="1186.9" y="1173.1" width="1.7" height="10.2" fill="#2020ff"/>
</g>
<g style="mix-blend-mode:multiply">
<path d="M223.5 871.5V1217.0M571.7 871.5V1217.0M687.7 871.5V1217.0M919.8 871.5V1217.0M1035.8 871.5V1217.0M61.5 1143.2H1191.0M61.5 942.5H1191.0" stroke="#d9d9d9" stroke-width="4.6" fill="none"/>
<path d="M107.4 871.5V1217.0M339.5 871.5V1217.0M455.6 871.5V1217.0M803.7 871.5V1217.0M1151.9 871.5V1217.0M61.5 1183.3H1191.0M61.5 1103.0H1191.0M61.5 1062.9H1191.0M61.5 1022.7H1191.0M61.5 982.6H1191.0M61.5 902.3H1191.0" stroke="#ababab" stroke-width="2.6" fill="none"/>
</g>
<line x1="61.5" y1="1183.3" x2="1191.0" y2="1183.3" stroke="#8a8aff" stroke-width="4"/>
<line x1="60.0" y1="868.3" x2="1192.5" y2="868.3" stroke="#d4d4d4" stroke-width="3"/>
<line x1="60.0" y1="871.5" x2="1192.5" y2="871.5" stroke="#8e8e8e" stroke-width="3"/>
<line x1="1191.0" y1="870.0" x2="1191.0" y2="1218.5" stroke="#a0a0a0" stroke-width="2.7"/>
<line x1="1193.7" y1="870.0" x2="1193.7" y2="1218.5" stroke="#d0d0d0" stroke-width="2.6"/>
<line x1="61.5" y1="870.0" x2="61.5" y2="1218.5" stroke="#696969" stroke-width="3"/>
<line x1="60.0" y1="1217.0" x2="1192.5" y2="1217.0" stroke="#696969" stroke-width="2.8"/>
<path d="M107.4 871.5v9M107.4 1217.0v-9M223.5 871.5v9M223.5 1217.0v-9M339.5 871.5v9M339.5 1217.0v-9M455.6 871.5v9M455.6 1217.0v-9M571.7 871.5v9M571.7 1217.0v-9M687.7 871.5v9M687.7 1217.0v-9M803.7 871.5v9M803.7 1217.0v-9M919.8 871.5v9M919.8 1217.0v-9M1035.8 871.5v9M1035.8 1217.0v-9M1151.9 871.5v9M1151.9 1217.0v-9M61.5 1183.3h10M1191.0 1183.3h-10M61.5 1143.2h10M1191.0 1143.2h-10M61.5 1103.0h10M1191.0 1103.0h-10M61.5 1062.9h10M1191.0 1062.9h-10M61.5 1022.7h10M1191.0 1022.7h-10M61.5 982.6h10M1191.0 982.6h-10M61.5 942.5h10M1191.0 942.5h-10M61.5 902.3h10M1191.0 902.3h-10" stroke="#696969" stroke-width="2.6" fill="none"/>
<text x="57.5" y="1191.3" font-size="21" fill="#7a7a7a" text-anchor="end">0</text>
<text x="57.5" y="1151.2" font-size="21" fill="#7a7a7a" text-anchor="end">500</text>
<text x="57.5" y="1111.0" font-size="21" fill="#7a7a7a" text-anchor="end">1000</text>
<text x="57.5" y="1070.9" font-size="21" fill="#7a7a7a" text-anchor="end">1500</text>
<text x="57.5" y="1030.7" font-size="21" fill="#7a7a7a" text-anchor="end">2000</text>
<text x="57.5" y="990.6" font-size="21" fill="#7a7a7a" text-anchor="end">2500</text>
<text x="57.5" y="950.5" font-size="21" fill="#7a7a7a" text-anchor="end">3000</text>
<text x="57.5" y="910.3" font-size="21" fill="#7a7a7a" text-anchor="end">3500</text>
<text x="549" y="859" font-size="26" fill="#484848" stroke="#484848" stroke-width="0.35" textLength="158" lengthAdjust="spacingAndGlyphs">PV Power [W]</text>
<clipPath id="c3"><rect x="61.5" y="1279.0" width="1129.5" height="293.5"/></clipPath>
<g clip-path="url(#c3)">
<rect x="61.9" y="1408.9" width="7.90" height="11.0" fill="#acd2ee"/>
<rect x="61.9" y="1300.7" width="7.00" height="119.2" fill="#92c2e7"/>
<rect x="63.1" y="1300.7" width="2.0" height="119.2" fill="#2f86ca"/>
<rect x="69.8" y="1409.5" width="6.00" height="11.0" fill="#acd2ee"/>
<rect x="69.8" y="1300.7" width="5.10" height="119.8" fill="#92c2e7"/>
<rect x="71.0" y="1300.7" width="2.0" height="119.8" fill="#2f86ca"/>
<rect x="75.8" y="1411.6" width="7.80" height="11.0" fill="#acd2ee"/>
<rect x="75.8" y="1300.7" width="6.90" height="121.9" fill="#92c2e7"/>
<rect x="77.0" y="1300.7" width="2.0" height="121.9" fill="#2f86ca"/>
<rect x="83.6" y="1412.1" width="9.60" height="11.0" fill="#acd2ee"/>
<rect x="83.6" y="1300.7" width="7.20" height="122.4" fill="#92c2e7"/>
<rect x="84.8" y="1300.7" width="2.0" height="122.4" fill="#2f86ca"/>
<rect x="93.2" y="1412.1" width="8.70" height="11.0" fill="#acd2ee"/>
<rect x="93.2" y="1300.7" width="7.20" height="122.4" fill="#92c2e7"/>
<rect x="94.4" y="1300.7" width="2.0" height="122.4" fill="#2f86ca"/>
<rect x="101.9" y="1427.2" width="8.70" height="11.0" fill="#acd2ee"/>
<rect x="101.9" y="1316.4" width="7.20" height="121.9" fill="#92c2e7"/>
<rect x="103.1" y="1316.4" width="2.0" height="121.9" fill="#2f86ca"/>
<rect x="110.6" y="1422.0" width="8.60" height="11.0" fill="#acd2ee"/>
<rect x="110.6" y="1309.6" width="7.20" height="123.4" fill="#92c2e7"/>
<rect x="111.8" y="1309.6" width="2.0" height="123.4" fill="#2f86ca"/>
<rect x="119.2" y="1422.0" width="7.00" height="11.0" fill="#acd2ee"/>
<rect x="119.2" y="1308.0" width="6.10" height="125.0" fill="#92c2e7"/>
<rect x="120.4" y="1308.0" width="2.0" height="125.0" fill="#2f86ca"/>
<rect x="126.2" y="1415.2" width="8.70" height="11.0" fill="#acd2ee"/>
<rect x="126.2" y="1300.7" width="7.20" height="125.5" fill="#92c2e7"/>
<rect x="127.4" y="1300.7" width="2.0" height="125.5" fill="#2f86ca"/>
<rect x="134.9" y="1438.2" width="8.60" height="11.0" fill="#acd2ee"/>
<rect x="134.9" y="1325.3" width="7.20" height="124.0" fill="#92c2e7"/>
<rect x="136.1" y="1325.3" width="2.0" height="124.0" fill="#2f86ca"/>
<rect x="143.5" y="1436.7" width="8.70" height="11.0" fill="#acd2ee"/>
<rect x="143.5" y="1321.6" width="7.20" height="126.0" fill="#92c2e7"/>
<rect x="144.7" y="1321.6" width="2.0" height="126.0" fill="#2f86ca"/>
<rect x="152.2" y="1455.5" width="7.00" height="11.0" fill="#acd2ee"/>
<rect x="152.2" y="1339.9" width="6.10" height="126.6" fill="#92c2e7"/>
<rect x="153.4" y="1339.9" width="2.0" height="126.6" fill="#2f86ca"/>
<rect x="159.2" y="1474.8" width="8.60" height="11.0" fill="#acd2ee"/>
<rect x="159.2" y="1358.8" width="7.20" height="127.1" fill="#92c2e7"/>
<rect x="160.4" y="1358.8" width="2.0" height="127.1" fill="#2f86ca"/>
<rect x="167.8" y="1507.8" width="8.70" height="11.0" fill="#acd2ee"/>
<rect x="167.8" y="1391.2" width="7.20" height="127.6" fill="#92c2e7"/>
<rect x="169.0" y="1391.2" width="2.0" height="127.6" fill="#2f86ca"/>
<rect x="176.5" y="1549.6" width="8.70" height="11.0" fill="#acd2ee"/>
<rect x="176.5" y="1442.4" width="7.20" height="118.2" fill="#92c2e7"/>
<rect x="177.7" y="1442.4" width="2.0" height="118.2" fill="#2f86ca"/>
<rect x="185.2" y="1550.2" width="7.80" height="11.0" fill="#acd2ee"/>
<rect x="185.2" y="1492.6" width="6.90" height="68.5" fill="#92c2e7"/>
<rect x="186.4" y="1492.6" width="2.0" height="68.5" fill="#2f86ca"/>
<rect x="193.0" y="1532.9" width="7.80" height="11.0" fill="#acd2ee"/>
<rect x="193.0" y="1412.6" width="6.90" height="131.3" fill="#92c2e7"/>
<rect x="194.2" y="1412.6" width="2.0" height="131.3" fill="#2f86ca"/>
<rect x="200.8" y="1539.7" width="8.70" height="11.0" fill="#acd2ee"/>
<rect x="200.8" y="1418.9" width="7.20" height="131.8" fill="#92c2e7"/>
<rect x="202.0" y="1418.9" width="2.0" height="131.8" fill="#2f86ca"/>
<rect x="209.5" y="1537.1" width="8.70" height="11.0" fill="#acd2ee"/>
<rect x="209.5" y="1415.2" width="7.20" height="132.8" fill="#92c2e7"/>
<rect x="210.7" y="1415.2" width="2.0" height="132.8" fill="#2f86ca"/>
<rect x="218.2" y="1543.4" width="8.70" height="11.0" fill="#acd2ee"/>
<rect x="218.2" y="1420.5" width="7.20" height="133.9" fill="#92c2e7"/>
<rect x="219.4" y="1420.5" width="2.0" height="133.9" fill="#2f86ca"/>
<rect x="226.9" y="1543.4" width="7.80" height="11.0" fill="#acd2ee"/>
<rect x="226.9" y="1420.5" width="6.90" height="133.9" fill="#92c2e7"/>
<rect x="228.1" y="1420.5" width="2.0" height="133.9" fill="#2f86ca"/>
<rect x="234.7" y="1531.3" width="8.70" height="11.0" fill="#acd2ee"/>
<rect x="234.7" y="1405.8" width="7.20" height="136.5" fill="#92c2e7"/>
<rect x="235.9" y="1405.8" width="2.0" height="136.5" fill="#2f86ca"/>
<rect x="243.4" y="1521.4" width="8.50" height="11.0" fill="#acd2ee"/>
<rect x="243.4" y="1397.5" width="7.20" height="134.9" fill="#92c2e7"/>
<rect x="244.6" y="1397.5" width="2.0" height="134.9" fill="#2f86ca"/>
<rect x="251.9" y="1534.5" width="8.70" height="11.0" fill="#acd2ee"/>
<rect x="251.9" y="1410.0" width="7.20" height="135.5" fill="#92c2e7"/>
<rect x="253.1" y="1410.0" width="2.0" height="135.5" fill="#2f86ca"/>
<rect x="260.6" y="1527.7" width="8.70" height="11.0" fill="#acd2ee"/>
<rect x="260.6" y="1400.6" width="7.20" height="138.1" fill="#92c2e7"/>
<rect x="261.8" y="1400.6" width="2.0" height="138.1" fill="#2f86ca"/>
<rect x="269.3" y="1522.4" width="7.00" height="11.0" fill="#acd2ee"/>
<rect x="269.3" y="1395.4" width="6.10" height="138.1" fill="#92c2e7"/>
<rect x="270.5" y="1395.4" width="2.0" height="138.1" fill="#2f86ca"/>
<rect x="276.3" y="1522.4" width="9.50" height="11.0" fill="#acd2ee"/>
<rect x="276.3" y="1394.8" width="7.20" height="138.6" fill="#92c2e7"/>
<rect x="277.5" y="1394.8" width="2.0" height="138.6" fill="#2f86ca"/>
<rect x="285.8" y="1518.8" width="8.70" height="11.0" fill="#acd2ee"/>
<rect x="285.8" y="1391.2" width="7.20" height="138.6" fill="#92c2e7"/>
<rect x="287.0" y="1391.2" width="2.0" height="138.6" fill="#2f86ca"/>
<rect x="294.5" y="1517.2" width="8.70" height="11.0" fill="#acd2ee"/>
<rect x="294.5" y="1388.6" width="7.20" height="139.6" fill="#92c2e7"/>
<rect x="295.7" y="1388.6" width="2.0" height="139.6" fill="#2f86ca"/>
<rect x="303.2" y="1518.8" width="6.00" height="11.0" fill="#acd2ee"/>
<rect x="303.2" y="1389.6" width="5.10" height="140.2" fill="#92c2e7"/>
<rect x="304.4" y="1389.6" width="2.0" height="140.2" fill="#2f86ca"/>
<rect x="309.2" y="1544.4" width="8.70" height="11.0" fill="#acd2ee"/>
<rect x="309.2" y="1414.7" width="7.20" height="140.7" fill="#92c2e7"/>
<rect x="310.4" y="1414.7" width="2.0" height="140.7" fill="#2f86ca"/>
<rect x="317.9" y="1548.6" width="8.70" height="11.0" fill="#acd2ee"/>
<rect x="317.9" y="1415.2" width="7.20" height="144.3" fill="#92c2e7"/>
<rect x="319.1" y="1415.2" width="2.0" height="144.3" fill="#2f86ca"/>
<rect x="326.6" y="1551.2" width="9.50" height="11.0" fill="#acd2ee"/>
<rect x="326.6" y="1418.9" width="7.20" height="143.3" fill="#92c2e7"/>
<rect x="327.8" y="1418.9" width="2.0" height="143.3" fill="#2f86ca"/>
<rect x="336.1" y="1551.2" width="7.00" height="11.0" fill="#acd2ee"/>
<rect x="336.1" y="1424.1" width="6.10" height="138.1" fill="#92c2e7"/>
<rect x="337.3" y="1424.1" width="2.0" height="138.1" fill="#2f86ca"/>
<rect x="343.1" y="1551.2" width="8.70" height="11.0" fill="#acd2ee"/>
<rect x="343.1" y="1423.6" width="7.20" height="138.6" fill="#92c2e7"/>
<rect x="344.3" y="1423.6" width="2.0" height="138.6" fill="#2f86ca"/>
<rect x="351.8" y="1551.2" width="8.70" height="11.0" fill="#acd2ee"/>
<rect x="351.8" y="1425.2" width="7.20" height="137.0" fill="#92c2e7"/>
<rect x="353.0" y="1425.2" width="2.0" height="137.0" fill="#2f86ca"/>
<rect x="360.5" y="1551.2" width="8.60" height="11.0" fill="#acd2ee"/>
<rect x="360.5" y="1425.7" width="7.20" height="136.5" fill="#92c2e7"/>
<rect x="361.7" y="1425.7" width="2.0" height="136.5" fill="#2f86ca"/>
<rect x="369.1" y="1551.2" width="8.70" height="11.0" fill="#acd2ee"/>
<rect x="369.1" y="1435.6" width="7.20" height="126.6" fill="#92c2e7"/>
<rect x="370.3" y="1435.6" width="2.0" height="126.6" fill="#2f86ca"/>
<rect x="377.8" y="1551.2" width="6.10" height="11.0" fill="#acd2ee"/>
<rect x="377.8" y="1435.6" width="5.20" height="126.6" fill="#92c2e7"/>
<rect x="379.0" y="1435.6" width="2.0" height="126.6" fill="#2f86ca"/>
<rect x="383.9" y="1551.2" width="7.80" height="11.0" fill="#acd2ee"/>
<rect x="383.9" y="1472.8" width="6.90" height="89.4" fill="#92c2e7"/>
<rect x="385.1" y="1472.8" width="2.0" height="89.4" fill="#2f86ca"/>
<rect x="391.7" y="1551.2" width="10.40" height="11.0" fill="#acd2ee"/>
<rect x="391.7" y="1541.3" width="5.60" height="20.9" fill="#92c2e7"/>
<rect x="392.9" y="1541.3" width="2.0" height="20.9" fill="#2f86ca"/>
<rect x="402.1" y="1551.2" width="8.70" height="11.0" fill="#acd2ee"/>
<rect x="402.1" y="1437.2" width="7.20" height="125.0" fill="#92c2e7"/>
<rect x="403.3" y="1437.2" width="2.0" height="125.0" fill="#2f86ca"/>
<rect x="410.8" y="1551.2" width="7.80" height="11.0" fill="#acd2ee"/>
<rect x="410.8" y="1512.0" width="6.90" height="50.2" fill="#92c2e7"/>
<rect x="412.0" y="1512.0" width="2.0" height="50.2" fill="#2f86ca"/>
<rect x="418.6" y="1551.2" width="8.70" height="11.0" fill="#acd2ee"/>
<rect x="418.6" y="1476.4" width="7.20" height="85.8" fill="#92c2e7"/>
<rect x="419.8" y="1476.4" width="2.0" height="85.8" fill="#2f86ca"/>
<rect x="427.3" y="1551.2" width="8.70" height="11.0" fill="#acd2ee"/>
<rect x="427.3" y="1492.6" width="7.20" height="69.6" fill="#92c2e7"/>
<rect x="428.5" y="1492.6" width="2.0" height="69.6" fill="#2f86ca"/>
<rect x="436.0" y="1551.2" width="8.10" height="11.0" fill="#acd2ee"/>
<rect x="436.0" y="1481.7" width="7.20" height="80.5" fill="#92c2e7"/>
<rect x="437.2" y="1481.7" width="2.0" height="80.5" fill="#2f86ca"/>
<rect x="444.1" y="1551.2" width="8.30" height="11.0" fill="#acd2ee"/>
<rect x="444.1" y="1444.5" width="7.20" height="117.7" fill="#92c2e7"/>
<rect x="445.3" y="1444.5" width="2.0" height="117.7" fill="#2f86ca"/>
<rect x="452.4" y="1551.2" width="6.60" height="11.0" fill="#acd2ee"/>
<rect x="452.4" y="1442.4" width="5.70" height="119.8" fill="#92c2e7"/>
<rect x="453.6" y="1442.4" width="2.0" height="119.8" fill="#2f86ca"/>
<rect x="459.0" y="1551.2" width="10.00" height="11.0" fill="#acd2ee"/>
<rect x="459.0" y="1466.0" width="7.20" height="96.2" fill="#92c2e7"/>
<rect x="460.2" y="1466.0" width="2.0" height="96.2" fill="#2f86ca"/>
<rect x="469.0" y="1551.2" width="8.30" height="11.0" fill="#acd2ee"/>
<rect x="469.0" y="1441.4" width="7.20" height="120.8" fill="#92c2e7"/>
<rect x="470.2" y="1441.4" width="2.0" height="120.8" fill="#2f86ca"/>
<rect x="477.3" y="1551.2" width="9.10" height="11.0" fill="#acd2ee"/>
<rect x="477.3" y="1452.9" width="7.20" height="109.3" fill="#92c2e7"/>
<rect x="478.5" y="1452.9" width="2.0" height="109.3" fill="#2f86ca"/>
<rect x="486.4" y="1551.2" width="8.20" height="11.0" fill="#acd2ee"/>
<rect x="486.4" y="1461.8" width="7.20" height="100.4" fill="#92c2e7"/>
<rect x="487.6" y="1461.8" width="2.0" height="100.4" fill="#2f86ca"/>
<rect x="494.6" y="1551.2" width="7.50" height="11.0" fill="#acd2ee"/>
<rect x="494.6" y="1475.4" width="6.60" height="86.8" fill="#92c2e7"/>
<rect x="495.8" y="1475.4" width="2.0" height="86.8" fill="#2f86ca"/>
<rect x="502.1" y="1551.2" width="9.10" height="11.0" fill="#acd2ee"/>
<rect x="502.1" y="1470.2" width="7.20" height="92.0" fill="#92c2e7"/>
<rect x="503.3" y="1470.2" width="2.0" height="92.0" fill="#2f86ca"/>
<rect x="511.2" y="1551.2" width="8.30" height="11.0" fill="#acd2ee"/>
<rect x="511.2" y="1467.0" width="7.20" height="95.2" fill="#92c2e7"/>
<rect x="512.4" y="1467.0" width="2.0" height="95.2" fill="#2f86ca"/>
<rect x="519.5" y="1551.2" width="8.20" height="11.0" fill="#acd2ee"/>
<rect x="519.5" y="1524.0" width="7.20" height="38.2" fill="#92c2e7"/>
<rect x="520.7" y="1524.0" width="2.0" height="38.2" fill="#2f86ca"/>
<rect x="527.7" y="1551.2" width="7.50" height="11.0" fill="#acd2ee"/>
<rect x="527.7" y="1542.8" width="5.60" height="19.4" fill="#92c2e7"/>
<rect x="528.9" y="1542.8" width="2.0" height="19.4" fill="#2f86ca"/>
<rect x="535.2" y="1551.2" width="8.30" height="11.0" fill="#acd2ee"/>
<rect x="535.2" y="1508.3" width="7.20" height="53.9" fill="#92c2e7"/>
<rect x="536.4" y="1508.3" width="2.0" height="53.9" fill="#2f86ca"/>
<rect x="543.5" y="1551.2" width="9.10" height="11.0" fill="#acd2ee"/>
<rect x="543.5" y="1515.1" width="7.20" height="47.1" fill="#92c2e7"/>
<rect x="544.7" y="1515.1" width="2.0" height="47.1" fill="#2f86ca"/>
<rect x="552.6" y="1551.2" width="9.10" height="11.0" fill="#acd2ee"/>
<rect x="552.6" y="1499.4" width="7.20" height="62.8" fill="#92c2e7"/>
<rect x="553.8" y="1499.4" width="2.0" height="62.8" fill="#2f86ca"/>
<rect x="561.7" y="1551.2" width="7.40" height="11.0" fill="#acd2ee"/>
<rect x="561.7" y="1542.8" width="5.60" height="19.4" fill="#92c2e7"/>
<rect x="562.9" y="1542.8" width="2.0" height="19.4" fill="#2f86ca"/>
<rect x="569.1" y="1551.2" width="8.30" height="11.0" fill="#acd2ee"/>
<rect x="569.1" y="1514.1" width="7.20" height="48.1" fill="#92c2e7"/>
<rect x="570.3" y="1514.1" width="2.0" height="48.1" fill="#2f86ca"/>
<rect x="577.4" y="1551.2" width="8.30" height="11.0" fill="#acd2ee"/>
<rect x="577.4" y="1475.4" width="7.20" height="86.8" fill="#92c2e7"/>
<rect x="578.6" y="1475.4" width="2.0" height="86.8" fill="#2f86ca"/>
<rect x="585.7" y="1551.2" width="9.10" height="11.0" fill="#acd2ee"/>
<rect x="585.7" y="1457.1" width="7.20" height="105.1" fill="#92c2e7"/>
<rect x="586.9" y="1457.1" width="2.0" height="105.1" fill="#2f86ca"/>
<rect x="594.8" y="1551.2" width="6.60" height="11.0" fill="#acd2ee"/>
<rect x="594.8" y="1496.8" width="5.70" height="65.4" fill="#92c2e7"/>
<rect x="596.0" y="1496.8" width="2.0" height="65.4" fill="#2f86ca"/>
<rect x="601.4" y="1551.2" width="10.80" height="11.0" fill="#acd2ee"/>
<rect x="601.4" y="1460.2" width="7.20" height="102.0" fill="#92c2e7"/>
<rect x="602.6" y="1460.2" width="2.0" height="102.0" fill="#2f86ca"/>
<rect x="612.2" y="1551.2" width="6.60" height="11.0" fill="#acd2ee"/>
<rect x="612.2" y="1517.2" width="5.70" height="45.0" fill="#92c2e7"/>
<rect x="613.4" y="1517.2" width="2.0" height="45.0" fill="#2f86ca"/>
<rect x="618.8" y="1551.2" width="9.10" height="11.0" fill="#acd2ee"/>
<rect x="618.8" y="1484.3" width="7.20" height="77.9" fill="#92c2e7"/>
<rect x="620.0" y="1484.3" width="2.0" height="77.9" fill="#2f86ca"/>
<rect x="627.9" y="1551.2" width="8.50" height="11.0" fill="#acd2ee"/>
<rect x="627.9" y="1475.9" width="7.20" height="86.3" fill="#92c2e7"/>
<rect x="629.1" y="1475.9" width="2.0" height="86.3" fill="#2f86ca"/>
<rect x="636.4" y="1551.2" width="6.90" height="11.0" fill="#acd2ee"/>
<rect x="636.4" y="1514.1" width="6.00" height="48.1" fill="#92c2e7"/>
<rect x="637.6" y="1514.1" width="2.0" height="48.1" fill="#2f86ca"/>
<rect x="643.3" y="1551.2" width="9.10" height="11.0" fill="#acd2ee"/>
<rect x="643.3" y="1490.0" width="7.20" height="72.2" fill="#92c2e7"/>
<rect x="644.5" y="1490.0" width="2.0" height="72.2" fill="#2f86ca"/>
<rect x="652.4" y="1551.2" width="8.30" height="11.0" fill="#acd2ee"/>
<rect x="652.4" y="1505.7" width="7.20" height="56.5" fill="#92c2e7"/>
<rect x="653.6" y="1505.7" width="2.0" height="56.5" fill="#2f86ca"/>
<rect x="660.7" y="1551.2" width="9.10" height="11.0" fill="#acd2ee"/>
<rect x="660.7" y="1470.2" width="7.20" height="92.0" fill="#92c2e7"/>
<rect x="661.9" y="1470.2" width="2.0" height="92.0" fill="#2f86ca"/>
<rect x="669.8" y="1551.2" width="9.10" height="11.0" fill="#acd2ee"/>
<rect x="669.8" y="1490.5" width="7.20" height="71.7" fill="#92c2e7"/>
<rect x="671.0" y="1490.5" width="2.0" height="71.7" fill="#2f86ca"/>
<rect x="678.9" y="1551.2" width="5.80" height="11.0" fill="#acd2ee"/>
<rect x="678.9" y="1505.7" width="4.90" height="56.5" fill="#92c2e7"/>
<rect x="680.1" y="1505.7" width="2.0" height="56.5" fill="#2f86ca"/>
<rect x="684.7" y="1551.2" width="9.10" height="11.0" fill="#acd2ee"/>
<rect x="684.7" y="1484.3" width="7.20" height="77.9" fill="#92c2e7"/>
<rect x="685.9" y="1484.3" width="2.0" height="77.9" fill="#2f86ca"/>
<rect x="693.8" y="1551.2" width="9.10" height="11.0" fill="#acd2ee"/>
<rect x="693.8" y="1532.9" width="5.60" height="29.3" fill="#92c2e7"/>
<rect x="695.0" y="1532.9" width="2.0" height="29.3" fill="#2f86ca"/>
<rect x="702.9" y="1551.2" width="9.10" height="11.0" fill="#acd2ee"/>
<rect x="702.9" y="1520.9" width="7.20" height="41.3" fill="#92c2e7"/>
<rect x="704.1" y="1520.9" width="2.0" height="41.3" fill="#2f86ca"/>
<rect x="712.0" y="1551.2" width="6.60" height="11.0" fill="#acd2ee"/>
<rect x="712.0" y="1532.9" width="5.60" height="29.3" fill="#92c2e7"/>
<rect x="713.2" y="1532.9" width="2.0" height="29.3" fill="#2f86ca"/>
<rect x="718.6" y="1551.2" width="8.30" height="11.0" fill="#acd2ee"/>
<rect x="718.6" y="1481.1" width="7.20" height="81.1" fill="#92c2e7"/>
<rect x="719.8" y="1481.1" width="2.0" height="81.1" fill="#2f86ca"/>
<rect x="726.9" y="1551.2" width="9.10" height="11.0" fill="#acd2ee"/>
<rect x="726.9" y="1542.3" width="5.60" height="19.9" fill="#92c2e7"/>
<rect x="728.1" y="1542.3" width="2.0" height="19.9" fill="#2f86ca"/>
<rect x="736.0" y="1551.2" width="9.10" height="11.0" fill="#acd2ee"/>
<rect x="736.0" y="1548.1" width="5.60" height="14.1" fill="#92c2e7"/>
<rect x="737.2" y="1548.1" width="2.0" height="14.1" fill="#2f86ca"/>
<rect x="745.1" y="1551.2" width="8.30" height="11.0" fill="#acd2ee"/>
<rect x="745.1" y="1487.4" width="7.20" height="74.8" fill="#92c2e7"/>
<rect x="746.3" y="1487.4" width="2.0" height="74.8" fill="#2f86ca"/>
<rect x="753.4" y="1551.2" width="7.40" height="11.0" fill="#acd2ee"/>
<rect x="753.4" y="1520.9" width="6.50" height="41.3" fill="#92c2e7"/>
<rect x="754.6" y="1520.9" width="2.0" height="41.3" fill="#2f86ca"/>
<rect x="760.8" y="1551.2" width="8.30" height="11.0" fill="#acd2ee"/>
<rect x="760.8" y="1532.9" width="5.60" height="29.3" fill="#92c2e7"/>
<rect x="762.0" y="1532.9" width="2.0" height="29.3" fill="#2f86ca"/>
<rect x="769.1" y="1551.2" width="9.10" height="11.0" fill="#acd2ee"/>
<rect x="769.1" y="1547.6" width="5.60" height="14.6" fill="#92c2e7"/>
<rect x="770.3" y="1547.6" width="2.0" height="14.6" fill="#2f86ca"/>
<rect x="778.2" y="1553.8" width="8.30" height="8.4" fill="#acd2ee"/>
<rect x="778.2" y="1553.8" width="5.60" height="8.4" fill="#92c2e7"/>
<rect x="779.4" y="1553.8" width="2.0" height="8.4" fill="#2f86ca"/>
<rect x="786.5" y="1551.2" width="7.40" height="11.0" fill="#acd2ee"/>
<rect x="786.5" y="1532.9" width="5.60" height="29.3" fill="#92c2e7"/>
<rect x="787.7" y="1532.9" width="2.0" height="29.3" fill="#2f86ca"/>
<rect x="793.9" y="1551.2" width="9.10" height="11.0" fill="#acd2ee"/>
<rect x="793.9" y="1508.3" width="7.20" height="53.9" fill="#92c2e7"/>
<rect x="795.1" y="1508.3" width="2.0" height="53.9" fill="#2f86ca"/>
<rect x="803.0" y="1551.2" width="8.30" height="11.0" fill="#acd2ee"/>
<rect x="803.0" y="1508.3" width="7.20" height="53.9" fill="#92c2e7"/>
<rect x="804.2" y="1508.3" width="2.0" height="53.9" fill="#2f86ca"/>
<rect x="811.3" y="1551.2" width="9.10" height="11.0" fill="#acd2ee"/>
<rect x="811.3" y="1517.2" width="7.20" height="45.0" fill="#92c2e7"/>
<rect x="812.5" y="1517.2" width="2.0" height="45.0" fill="#2f86ca"/>
<rect x="820.4" y="1551.2" width="8.90" height="11.0" fill="#acd2ee"/>
<rect x="820.4" y="1532.9" width="5.60" height="29.3" fill="#92c2e7"/>
<rect x="821.6" y="1532.9" width="2.0" height="29.3" fill="#2f86ca"/>
<rect x="829.3" y="1551.2" width="6.50" height="11.0" fill="#acd2ee"/>
<rect x="829.3" y="1547.0" width="5.60" height="15.2" fill="#92c2e7"/>
<rect x="830.5" y="1547.0" width="2.0" height="15.2" fill="#2f86ca"/>
<rect x="835.8" y="1551.2" width="8.30" height="11.0" fill="#acd2ee"/>
<rect x="835.8" y="1523.5" width="7.20" height="38.7" fill="#92c2e7"/>
<rect x="837.0" y="1523.5" width="2.0" height="38.7" fill="#2f86ca"/>
<rect x="844.1" y="1551.2" width="9.10" height="11.0" fill="#acd2ee"/>
<rect x="844.1" y="1530.3" width="7.20" height="31.9" fill="#92c2e7"/>
<rect x="845.3" y="1530.3" width="2.0" height="31.9" fill="#2f86ca"/>
<rect x="853.2" y="1551.2" width="9.10" height="11.0" fill="#acd2ee"/>
<rect x="853.2" y="1530.3" width="7.20" height="31.9" fill="#92c2e7"/>
<rect x="854.4" y="1530.3" width="2.0" height="31.9" fill="#2f86ca"/>
<rect x="862.3" y="1551.2" width="6.60" height="11.0" fill="#acd2ee"/>
<rect x="862.3" y="1546.0" width="5.60" height="16.2" fill="#92c2e7"/>
<rect x="863.5" y="1546.0" width="2.0" height="16.2" fill="#2f86ca"/>
<rect x="868.9" y="1551.2" width="8.30" height="11.0" fill="#acd2ee"/>
<rect x="868.9" y="1538.7" width="5.60" height="23.5" fill="#92c2e7"/>
<rect x="870.1" y="1538.7" width="2.0" height="23.5" fill="#2f86ca"/>
<rect x="877.2" y="1551.2" width="9.10" height="11.0" fill="#acd2ee"/>
<rect x="877.2" y="1515.1" width="7.20" height="47.1" fill="#92c2e7"/>
<rect x="878.4" y="1515.1" width="2.0" height="47.1" fill="#2f86ca"/>
<rect x="886.3" y="1551.2" width="9.10" height="11.0" fill="#acd2ee"/>
<rect x="886.3" y="1520.9" width="7.20" height="41.3" fill="#92c2e7"/>
<rect x="887.5" y="1520.9" width="2.0" height="41.3" fill="#2f86ca"/>
<rect x="895.4" y="1551.2" width="8.30" height="11.0" fill="#acd2ee"/>
<rect x="895.4" y="1517.7" width="7.20" height="44.5" fill="#92c2e7"/>
<rect x="896.6" y="1517.7" width="2.0" height="44.5" fill="#2f86ca"/>
<rect x="903.7" y="1551.2" width="7.40" height="11.0" fill="#acd2ee"/>
<rect x="903.7" y="1539.2" width="5.60" height="23.0" fill="#92c2e7"/>
<rect x="904.9" y="1539.2" width="2.0" height="23.0" fill="#2f86ca"/>
<rect x="911.1" y="1551.2" width="8.30" height="11.0" fill="#acd2ee"/>
<rect x="911.1" y="1533.4" width="5.60" height="28.8" fill="#92c2e7"/>
<rect x="912.3" y="1533.4" width="2.0" height="28.8" fill="#2f86ca"/>
<rect x="919.4" y="1551.2" width="9.10" height="11.0" fill="#acd2ee"/>
<rect x="919.4" y="1547.0" width="5.60" height="15.2" fill="#92c2e7"/>
<rect x="920.6" y="1547.0" width="2.0" height="15.2" fill="#2f86ca"/>
<rect x="928.5" y="1551.2" width="8.30" height="11.0" fill="#acd2ee"/>
<rect x="928.5" y="1515.1" width="7.20" height="47.1" fill="#92c2e7"/>
<rect x="929.7" y="1515.1" width="2.0" height="47.1" fill="#2f86ca"/>
<rect x="936.8" y="1551.2" width="8.30" height="11.0" fill="#acd2ee"/>
<rect x="936.8" y="1532.9" width="5.60" height="29.3" fill="#92c2e7"/>
<rect x="938.0" y="1532.9" width="2.0" height="29.3" fill="#2f86ca"/>
<rect x="945.1" y="1551.2" width="7.40" height="11.0" fill="#acd2ee"/>
<rect x="945.1" y="1537.6" width="5.60" height="24.6" fill="#92c2e7"/>
<rect x="946.3" y="1537.6" width="2.0" height="24.6" fill="#2f86ca"/>
<rect x="952.5" y="1551.2" width="9.10" height="11.0" fill="#acd2ee"/>
<rect x="952.5" y="1517.7" width="7.20" height="44.5" fill="#92c2e7"/>
<rect x="953.7" y="1517.7" width="2.0" height="44.5" fill="#2f86ca"/>
<rect x="961.6" y="1551.2" width="8.30" height="11.0" fill="#acd2ee"/>
<rect x="961.6" y="1519.8" width="7.20" height="42.4" fill="#92c2e7"/>
<rect x="962.8" y="1519.8" width="2.0" height="42.4" fill="#2f86ca"/>
<rect x="969.9" y="1551.2" width="9.10" height="11.0" fill="#acd2ee"/>
<rect x="969.9" y="1517.7" width="7.20" height="44.5" fill="#92c2e7"/>
<rect x="971.1" y="1517.7" width="2.0" height="44.5" fill="#2f86ca"/>
<rect x="979.0" y="1551.2" width="6.60" height="11.0" fill="#acd2ee"/>
<rect x="979.0" y="1540.8" width="5.60" height="21.4" fill="#92c2e7"/>
<rect x="980.2" y="1540.8" width="2.0" height="21.4" fill="#2f86ca"/>
<rect x="985.6" y="1551.2" width="8.30" height="11.0" fill="#acd2ee"/>
<rect x="985.6" y="1523.5" width="7.20" height="38.7" fill="#92c2e7"/>
<rect x="986.8" y="1523.5" width="2.0" height="38.7" fill="#2f86ca"/>
<rect x="993.9" y="1553.3" width="9.10" height="8.9" fill="#acd2ee"/>
<rect x="993.9" y="1553.3" width="5.60" height="8.9" fill="#92c2e7"/>
<rect x="995.1" y="1553.3" width="2.0" height="8.9" fill="#2f86ca"/>
<rect x="1003.0" y="1551.2" width="8.80" height="11.0" fill="#acd2ee"/>
<rect x="1003.0" y="1548.6" width="5.60" height="13.6" fill="#92c2e7"/>
<rect x="1004.2" y="1548.6" width="2.0" height="13.6" fill="#2f86ca"/>
<rect x="1011.8" y="1560.2" width="7.20" height="2.0" fill="#acd2ee"/>
<rect x="1011.8" y="1560.2" width="5.60" height="2.0" fill="#92c2e7"/>
<rect x="1013.0" y="1560.2" width="2.0" height="2.0" fill="#2f86ca"/>
<rect x="1019.0" y="1551.2" width="8.10" height="11.0" fill="#acd2ee"/>
<rect x="1019.0" y="1550.7" width="5.60" height="11.5" fill="#92c2e7"/>
<rect x="1020.2" y="1550.7" width="2.0" height="11.5" fill="#2f86ca"/>
<rect x="1027.1" y="1553.3" width="9.60" height="8.9" fill="#acd2ee"/>
<rect x="1027.1" y="1553.3" width="5.60" height="8.9" fill="#92c2e7"/>
<rect x="1028.3" y="1553.3" width="2.0" height="8.9" fill="#2f86ca"/>
<rect x="1036.7" y="1560.2" width="7.90" height="2.0" fill="#acd2ee"/>
<rect x="1036.7" y="1560.2" width="5.60" height="2.0" fill="#92c2e7"/>
<rect x="1037.9" y="1560.2" width="2.0" height="2.0" fill="#2f86ca"/>
<rect x="1044.6" y="1551.2" width="9.40" height="11.0" fill="#acd2ee"/>
<rect x="1044.6" y="1550.7" width="5.60" height="11.5" fill="#92c2e7"/>
<rect x="1045.8" y="1550.7" width="2.0" height="11.5" fill="#2f86ca"/>
<rect x="1054.0" y="1551.2" width="6.30" height="11.0" fill="#acd2ee"/>
<rect x="1054.0" y="1550.7" width="5.40" height="11.5" fill="#92c2e7"/>
<rect x="1055.2" y="1550.7" width="2.0" height="11.5" fill="#2f86ca"/>
<rect x="1060.3" y="1551.2" width="8.70" height="11.0" fill="#acd2ee"/>
<rect x="1060.3" y="1550.7" width="5.60" height="11.5" fill="#92c2e7"/>
<rect x="1061.5" y="1550.7" width="2.0" height="11.5" fill="#2f86ca"/>
<rect x="1069.0" y="1553.3" width="9.40" height="8.9" fill="#acd2ee"/>
<rect x="1069.0" y="1553.3" width="5.60" height="8.9" fill="#92c2e7"/>
<rect x="1070.2" y="1553.3" width="2.0" height="8.9" fill="#2f86ca"/>
<rect x="1078.4" y="1551.2" width="8.70" height="11.0" fill="#acd2ee"/>
<rect x="1078.4" y="1547.6" width="5.60" height="14.6" fill="#92c2e7"/>
<rect x="1079.6" y="1547.6" width="2.0" height="14.6" fill="#2f86ca"/>
<rect x="1087.1" y="1551.2" width="8.60" height="11.0" fill="#acd2ee"/>
<rect x="1087.1" y="1544.4" width="5.60" height="17.8" fill="#92c2e7"/>
<rect x="1088.3" y="1544.4" width="2.0" height="17.8" fill="#2f86ca"/>
<rect x="1095.7" y="1556.4" width="7.10" height="5.8" fill="#acd2ee"/>
<rect x="1095.7" y="1556.4" width="5.60" height="5.8" fill="#92c2e7"/>
<rect x="1096.9" y="1556.4" width="2.0" height="5.8" fill="#2f86ca"/>
<rect x="1102.8" y="1553.3" width="8.60" height="8.9" fill="#acd2ee"/>
<rect x="1102.8" y="1553.3" width="5.60" height="8.9" fill="#92c2e7"/>
<rect x="1104.0" y="1553.3" width="2.0" height="8.9" fill="#2f86ca"/>
<rect x="1111.4" y="1553.3" width="8.70" height="8.9" fill="#acd2ee"/>
<rect x="1111.4" y="1553.3" width="5.60" height="8.9" fill="#92c2e7"/>
<rect x="1112.6" y="1553.3" width="2.0" height="8.9" fill="#2f86ca"/>
<rect x="1120.1" y="1551.2" width="9.40" height="11.0" fill="#acd2ee"/>
<rect x="1120.1" y="1518.8" width="7.20" height="43.4" fill="#92c2e7"/>
<rect x="1121.3" y="1518.8" width="2.0" height="43.4" fill="#2f86ca"/>
<rect x="1129.5" y="1556.4" width="6.30" height="5.8" fill="#acd2ee"/>
<rect x="1129.5" y="1556.4" width="5.40" height="5.8" fill="#92c2e7"/>
<rect x="1130.7" y="1556.4" width="2.0" height="5.8" fill="#2f86ca"/>
<rect x="1135.8" y="1551.2" width="8.70" height="11.0" fill="#acd2ee"/>
<rect x="1135.8" y="1550.7" width="5.60" height="11.5" fill="#92c2e7"/>
<rect x="1137.0" y="1550.7" width="2.0" height="11.5" fill="#2f86ca"/>
<rect x="1144.5" y="1551.2" width="8.60" height="11.0" fill="#acd2ee"/>
<rect x="1144.5" y="1544.4" width="5.60" height="17.8" fill="#92c2e7"/>
<rect x="1145.7" y="1544.4" width="2.0" height="17.8" fill="#2f86ca"/>
<rect x="1153.1" y="1551.2" width="8.70" height="11.0" fill="#acd2ee"/>
<rect x="1153.1" y="1517.7" width="7.20" height="44.5" fill="#92c2e7"/>
<rect x="1154.3" y="1517.7" width="2.0" height="44.5" fill="#2f86ca"/>
<rect x="1161.8" y="1551.2" width="9.40" height="11.0" fill="#acd2ee"/>
<rect x="1161.8" y="1530.3" width="7.20" height="31.9" fill="#92c2e7"/>
<rect x="1163.0" y="1530.3" width="2.0" height="31.9" fill="#2f86ca"/>
<rect x="1171.2" y="1556.4" width="6.30" height="5.8" fill="#acd2ee"/>
<rect x="1171.2" y="1556.4" width="5.40" height="5.8" fill="#92c2e7"/>
<rect x="1172.4" y="1556.4" width="2.0" height="5.8" fill="#2f86ca"/>
<rect x="1177.5" y="1551.2" width="8.70" height="11.0" fill="#acd2ee"/>
<rect x="1177.5" y="1544.4" width="5.60" height="17.8" fill="#92c2e7"/>
<rect x="1178.7" y="1544.4" width="2.0" height="17.8" fill="#2f86ca"/>
<rect x="1186.2" y="1553.3" width="8.33" height="8.9" fill="#acd2ee"/>
<rect x="1186.2" y="1553.3" width="5.60" height="8.9" fill="#92c2e7"/>
<rect x="1187.4" y="1553.3" width="2.0" height="8.9" fill="#2f86ca"/>
</g>
<g style="mix-blend-mode:multiply">
<path d="M223.5 1279.0V1572.5M571.7 1279.0V1572.5M687.7 1279.0V1572.5M919.8 1279.0V1572.5M1035.8 1279.0V1572.5M61.5 1562.2H1191.0M61.5 1405.3H1191.0M61.5 1353.0H1191.0M61.5 1300.7H1191.0" stroke="#d9d9d9" stroke-width="4.6" fill="none"/>
<path d="M107.4 1279.0V1572.5M339.5 1279.0V1572.5M455.6 1279.0V1572.5M803.7 1279.0V1572.5M1151.9 1279.0V1572.5M61.5 1509.9H1191.0M61.5 1457.6H1191.0" stroke="#ababab" stroke-width="2.6" fill="none"/>
</g>
<line x1="61.5" y1="1562.2" x2="1191.0" y2="1562.2" stroke="#a6cdec" stroke-width="3.5"/>
<line x1="60.0" y1="1278.2" x2="1192.5" y2="1278.2" stroke="#9a9a9a" stroke-width="2.6"/>
<line x1="60.0" y1="1281.0" x2="1192.5" y2="1281.0" stroke="#cccccc" stroke-width="3"/>
<line x1="1191.0" y1="1277.5" x2="1191.0" y2="1574.0" stroke="#a0a0a0" stroke-width="2.7"/>
<line x1="1193.7" y1="1277.5" x2="1193.7" y2="1574.0" stroke="#d0d0d0" stroke-width="2.6"/>
<line x1="61.5" y1="1277.5" x2="61.5" y2="1574.0" stroke="#696969" stroke-width="3"/>
<line x1="60.0" y1="1572.5" x2="1192.5" y2="1572.5" stroke="#696969" stroke-width="2.8"/>
<line x1="60.0" y1="1575.3" x2="1194.0" y2="1575.3" stroke="#dcdcdc" stroke-width="2.6"/>
<path d="M107.4 1279.0v9M107.4 1572.5v-9M223.5 1279.0v9M223.5 1572.5v-9M339.5 1279.0v9M339.5 1572.5v-9M455.6 1279.0v9M455.6 1572.5v-9M571.7 1279.0v9M571.7 1572.5v-9M687.7 1279.0v9M687.7 1572.5v-9M803.7 1279.0v9M803.7 1572.5v-9M919.8 1279.0v9M919.8 1572.5v-9M1035.8 1279.0v9M1035.8 1572.5v-9M1151.9 1279.0v9M1151.9 1572.5v-9M61.5 1562.2h10M1191.0 1562.2h-10M61.5 1509.9h10M1191.0 1509.9h-10M61.5 1457.6h10M1191.0 1457.6h-10M61.5 1405.3h10M1191.0 1405.3h-10M61.5 1353.0h10M1191.0 1353.0h-10M61.5 1300.7h10M1191.0 1300.7h-10" stroke="#696969" stroke-width="2.6" fill="none"/>
<text x="57.5" y="1570.2" font-size="21" fill="#7a7a7a" text-anchor="end">50</text>
<text x="57.5" y="1517.9" font-size="21" fill="#7a7a7a" text-anchor="end">60</text>
<text x="57.5" y="1465.6" font-size="21" fill="#7a7a7a" text-anchor="end">70</text>
<text x="57.5" y="1413.3" font-size="21" fill="#7a7a7a" text-anchor="end">80</text>
<text x="57.5" y="1361.0" font-size="21" fill="#7a7a7a" text-anchor="end">90</text>
<text x="57.5" y="1308.7" font-size="21" fill="#7a7a7a" text-anchor="end">100</text>
<text x="534" y="1266" font-size="26" fill="#484848" stroke="#484848" stroke-width="0.35" textLength="186" lengthAdjust="spacingAndGlyphs">Battery SOC [%]</text>
<text x="107.4" y="1600" font-size="21" fill="#7a7a7a" text-anchor="middle">3.4</text>
<text x="223.5" y="1600" font-size="21" fill="#7a7a7a" text-anchor="middle">3.6</text>
<text x="339.5" y="1600" font-size="21" fill="#7a7a7a" text-anchor="middle">3.8</text>
<text x="455.6" y="1600" font-size="21" fill="#7a7a7a" text-anchor="middle">4</text>
<text x="571.7" y="1600" font-size="21" fill="#7a7a7a" text-anchor="middle">4.2</text>
<text x="687.7" y="1600" font-size="21" fill="#7a7a7a" text-anchor="middle">4.4</text>
<text x="803.7" y="1600" font-size="21" fill="#7a7a7a" text-anchor="middle">4.6</text>
<text x="919.8" y="1600" font-size="21" fill="#7a7a7a" text-anchor="middle">4.8</text>
<text x="1035.8" y="1600" font-size="21" fill="#7a7a7a" text-anchor="middle">5</text>
<text x="1151.9" y="1600" font-size="21" fill="#7a7a7a" text-anchor="middle">5.2</text>
<text x="1144.5" y="1633.5" font-size="17" fill="#9a9a9a">×</text><text x="1161.5" y="1633.5" font-size="22" fill="#8a8a8a" textLength="22" lengthAdjust="spacingAndGlyphs">10</text><text x="1183.5" y="1621" font-size="15" fill="#8a8a8a">5</text>
</svg></div>
<svg style="position:absolute;left:0;top:0" width="1208" height="1699" viewBox="0 0 1208 1699">
<text x="367.5" y="1664" font-size="41" fill="#262630" textLength="480" lengthAdjust="spacingAndGlyphs">Time [minute of the year]</text>
</svg></body></html>
